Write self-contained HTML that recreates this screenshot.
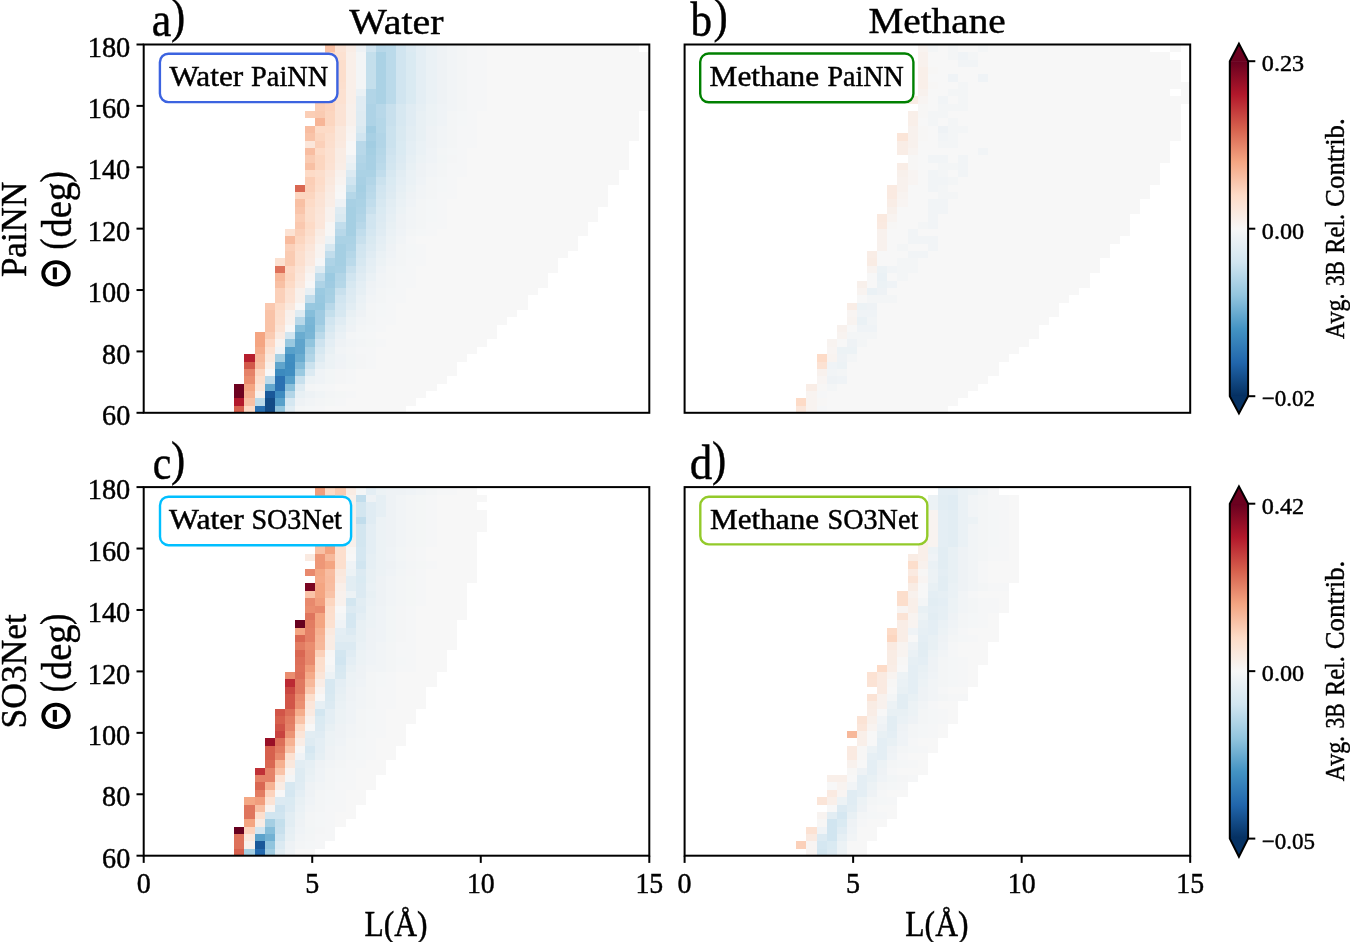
<!DOCTYPE html>
<html><head><meta charset="utf-8"><title>fig</title>
<style>html,body{margin:0;padding:0;background:#fff}body{width:1350px;height:942px;overflow:hidden;font-family:"Liberation Serif",serif}</style></head>
<body>
<svg width="1350" height="942" viewBox="0 0 1350 942" style="display:block">
<defs><linearGradient id="g" x1="0" y1="1" x2="0" y2="0">
<stop offset="0%" stop-color="#053061"/>
<stop offset="10%" stop-color="#2166ac"/>
<stop offset="20%" stop-color="#4393c3"/>
<stop offset="30%" stop-color="#92c5de"/>
<stop offset="40%" stop-color="#d1e5f0"/>
<stop offset="50%" stop-color="#f7f7f7"/>
<stop offset="60%" stop-color="#fddbc7"/>
<stop offset="70%" stop-color="#f4a582"/>
<stop offset="80%" stop-color="#d6604d"/>
<stop offset="90%" stop-color="#b2182b"/>
<stop offset="100%" stop-color="#67001f"/>
</linearGradient></defs>
<rect width="1350" height="942" fill="#fff"/>
<g shape-rendering="crispEdges">
<rect x="234" y="406" width="172" height="7" fill="#f7f7f7"/>
<rect x="234" y="406" width="10" height="7" fill="#d6604d"/>
<rect x="244" y="406" width="11" height="7" fill="#fddbc7"/>
<rect x="255" y="406" width="10" height="7" fill="#2a71b2"/>
<rect x="265" y="406" width="10" height="7" fill="#134b86"/>
<rect x="275" y="406" width="10" height="7" fill="#92c5de"/>
<rect x="285" y="406" width="10" height="7" fill="#e0ecf3"/>
<rect x="295" y="406" width="10" height="7" fill="#f3f5f6"/>
<rect x="305" y="406" width="10" height="7" fill="#f4f6f7"/>
<rect x="315" y="406" width="10" height="7" fill="#f5f6f7"/>
<rect x="234" y="398" width="182" height="8" fill="#f7f7f7"/>
<rect x="234" y="398" width="10" height="8" fill="#b2182b"/>
<rect x="244" y="398" width="11" height="8" fill="#f8c0a4"/>
<rect x="255" y="398" width="10" height="8" fill="#bbdaea"/>
<rect x="265" y="398" width="10" height="8" fill="#134b86"/>
<rect x="275" y="398" width="10" height="8" fill="#57a0ca"/>
<rect x="285" y="398" width="10" height="8" fill="#d5e7f1"/>
<rect x="295" y="398" width="10" height="8" fill="#eef2f5"/>
<rect x="305" y="398" width="10" height="8" fill="#f1f4f6"/>
<rect x="315" y="398" width="10" height="8" fill="#f3f5f6"/>
<rect x="325" y="398" width="10" height="8" fill="#f4f6f6"/>
<rect x="335" y="398" width="11" height="8" fill="#f5f6f7"/>
<rect x="234" y="391" width="192" height="7" fill="#f7f7f7"/>
<rect x="234" y="391" width="10" height="7" fill="#6e0220"/>
<rect x="244" y="391" width="11" height="7" fill="#f6b090"/>
<rect x="255" y="391" width="10" height="7" fill="#f8f0eb"/>
<rect x="265" y="391" width="10" height="7" fill="#1a5899"/>
<rect x="275" y="391" width="10" height="7" fill="#3e8cc0"/>
<rect x="285" y="391" width="10" height="7" fill="#b2d5e7"/>
<rect x="295" y="391" width="10" height="7" fill="#e8f0f4"/>
<rect x="305" y="391" width="10" height="7" fill="#edf2f5"/>
<rect x="315" y="391" width="10" height="7" fill="#f0f4f6"/>
<rect x="325" y="391" width="10" height="7" fill="#f3f5f6"/>
<rect x="335" y="391" width="11" height="7" fill="#f4f6f6"/>
<rect x="346" y="391" width="10" height="7" fill="#f5f6f7"/>
<rect x="234" y="384" width="203" height="7" fill="#f7f7f7"/>
<rect x="234" y="384" width="10" height="7" fill="#6e0220"/>
<rect x="244" y="384" width="11" height="7" fill="#f4a582"/>
<rect x="255" y="384" width="10" height="7" fill="#fbe5d8"/>
<rect x="265" y="384" width="10" height="7" fill="#63a7ce"/>
<rect x="275" y="384" width="10" height="7" fill="#2a71b2"/>
<rect x="285" y="384" width="10" height="7" fill="#8ac0db"/>
<rect x="295" y="384" width="10" height="7" fill="#deebf2"/>
<rect x="305" y="384" width="10" height="7" fill="#f3f5f6"/>
<rect x="315" y="384" width="10" height="7" fill="#f4f6f7"/>
<rect x="325" y="384" width="10" height="7" fill="#f5f6f7"/>
<rect x="244" y="376" width="203" height="8" fill="#f7f7f7"/>
<rect x="244" y="376" width="11" height="8" fill="#ea8d6f"/>
<rect x="255" y="376" width="10" height="8" fill="#fcdecc"/>
<rect x="265" y="376" width="10" height="8" fill="#bbdaea"/>
<rect x="275" y="376" width="10" height="8" fill="#2a71b2"/>
<rect x="285" y="376" width="10" height="8" fill="#57a0ca"/>
<rect x="295" y="376" width="10" height="8" fill="#c8e0ed"/>
<rect x="305" y="376" width="10" height="8" fill="#ecf2f5"/>
<rect x="315" y="376" width="10" height="8" fill="#eff3f6"/>
<rect x="325" y="376" width="10" height="8" fill="#f2f5f6"/>
<rect x="335" y="376" width="11" height="8" fill="#f4f5f6"/>
<rect x="346" y="376" width="10" height="8" fill="#f5f6f7"/>
<rect x="244" y="369" width="213" height="7" fill="#f7f7f7"/>
<rect x="244" y="369" width="11" height="7" fill="#e58268"/>
<rect x="255" y="369" width="10" height="7" fill="#fcd6c0"/>
<rect x="275" y="369" width="10" height="7" fill="#3c8abe"/>
<rect x="285" y="369" width="10" height="7" fill="#408ec1"/>
<rect x="295" y="369" width="10" height="7" fill="#9bcae1"/>
<rect x="305" y="369" width="10" height="7" fill="#dceaf2"/>
<rect x="315" y="369" width="10" height="7" fill="#eff3f6"/>
<rect x="325" y="369" width="10" height="7" fill="#f2f5f6"/>
<rect x="335" y="369" width="11" height="7" fill="#f4f5f6"/>
<rect x="346" y="369" width="10" height="7" fill="#f5f6f7"/>
<rect x="244" y="362" width="213" height="7" fill="#f7f7f7"/>
<rect x="244" y="362" width="11" height="7" fill="#d2594a"/>
<rect x="255" y="362" width="10" height="7" fill="#f8c0a4"/>
<rect x="265" y="362" width="10" height="7" fill="#f9efe9"/>
<rect x="275" y="362" width="10" height="7" fill="#5fa4cc"/>
<rect x="285" y="362" width="10" height="7" fill="#3e8cc0"/>
<rect x="295" y="362" width="10" height="7" fill="#82bbd9"/>
<rect x="305" y="362" width="10" height="7" fill="#cbe2ee"/>
<rect x="315" y="362" width="10" height="7" fill="#e6eff4"/>
<rect x="325" y="362" width="10" height="7" fill="#ecf2f5"/>
<rect x="335" y="362" width="11" height="7" fill="#f0f3f6"/>
<rect x="346" y="362" width="10" height="7" fill="#f2f5f6"/>
<rect x="356" y="362" width="10" height="7" fill="#f4f5f6"/>
<rect x="366" y="362" width="10" height="7" fill="#f5f6f7"/>
<rect x="244" y="354" width="223" height="8" fill="#f7f7f7"/>
<rect x="244" y="354" width="11" height="8" fill="#b61f2e"/>
<rect x="255" y="354" width="10" height="8" fill="#f7b89a"/>
<rect x="265" y="354" width="10" height="8" fill="#fae8dd"/>
<rect x="275" y="354" width="10" height="8" fill="#a5cfe3"/>
<rect x="285" y="354" width="10" height="8" fill="#408ec1"/>
<rect x="295" y="354" width="10" height="8" fill="#6aacd0"/>
<rect x="305" y="354" width="10" height="8" fill="#b2d5e7"/>
<rect x="315" y="354" width="10" height="8" fill="#deebf2"/>
<rect x="325" y="354" width="10" height="8" fill="#ecf2f5"/>
<rect x="335" y="354" width="11" height="8" fill="#eff3f6"/>
<rect x="346" y="354" width="10" height="8" fill="#f2f5f6"/>
<rect x="356" y="354" width="10" height="8" fill="#f4f5f6"/>
<rect x="366" y="354" width="10" height="8" fill="#f5f6f7"/>
<rect x="255" y="347" width="222" height="7" fill="#f7f7f7"/>
<rect x="255" y="347" width="10" height="7" fill="#f5ad8c"/>
<rect x="265" y="347" width="10" height="7" fill="#fce1d1"/>
<rect x="275" y="347" width="10" height="7" fill="#eff3f6"/>
<rect x="285" y="347" width="10" height="7" fill="#57a0ca"/>
<rect x="295" y="347" width="10" height="7" fill="#5fa4cc"/>
<rect x="305" y="347" width="10" height="7" fill="#a8d0e4"/>
<rect x="315" y="347" width="10" height="7" fill="#d7e8f1"/>
<rect x="325" y="347" width="10" height="7" fill="#e8f0f4"/>
<rect x="335" y="347" width="11" height="7" fill="#f1f4f6"/>
<rect x="346" y="347" width="10" height="7" fill="#f3f5f6"/>
<rect x="356" y="347" width="10" height="7" fill="#f5f6f7"/>
<rect x="366" y="347" width="10" height="7" fill="#f5f6f7"/>
<rect x="255" y="339" width="232" height="8" fill="#f7f7f7"/>
<rect x="255" y="339" width="10" height="8" fill="#f4a582"/>
<rect x="265" y="339" width="10" height="8" fill="#fdd8c4"/>
<rect x="275" y="339" width="10" height="8" fill="#f8f3f0"/>
<rect x="285" y="339" width="10" height="8" fill="#98c8e0"/>
<rect x="295" y="339" width="10" height="8" fill="#5fa4cc"/>
<rect x="305" y="339" width="10" height="8" fill="#92c5de"/>
<rect x="315" y="339" width="10" height="8" fill="#cee3ef"/>
<rect x="325" y="339" width="10" height="8" fill="#e4eef4"/>
<rect x="335" y="339" width="11" height="8" fill="#eef2f5"/>
<rect x="346" y="339" width="10" height="8" fill="#f1f4f6"/>
<rect x="356" y="339" width="10" height="8" fill="#f3f5f6"/>
<rect x="366" y="339" width="10" height="8" fill="#f4f6f6"/>
<rect x="376" y="339" width="10" height="8" fill="#f5f6f7"/>
<rect x="255" y="332" width="242" height="7" fill="#f7f7f7"/>
<rect x="255" y="332" width="10" height="7" fill="#f4a582"/>
<rect x="265" y="332" width="10" height="7" fill="#facbb2"/>
<rect x="275" y="332" width="10" height="7" fill="#faeae1"/>
<rect x="285" y="332" width="10" height="7" fill="#d1e5f0"/>
<rect x="295" y="332" width="10" height="7" fill="#6aacd0"/>
<rect x="305" y="332" width="10" height="7" fill="#7ab6d6"/>
<rect x="315" y="332" width="10" height="7" fill="#bbdaea"/>
<rect x="325" y="332" width="10" height="7" fill="#deebf2"/>
<rect x="335" y="332" width="11" height="7" fill="#eaf1f5"/>
<rect x="346" y="332" width="10" height="7" fill="#f3f5f6"/>
<rect x="356" y="332" width="10" height="7" fill="#f4f6f7"/>
<rect x="366" y="332" width="10" height="7" fill="#f5f6f7"/>
<rect x="265" y="325" width="232" height="7" fill="#f7f7f7"/>
<rect x="265" y="325" width="10" height="7" fill="#f9c3a8"/>
<rect x="275" y="325" width="10" height="7" fill="#fbe3d5"/>
<rect x="295" y="325" width="10" height="7" fill="#86beda"/>
<rect x="305" y="325" width="10" height="7" fill="#76b4d5"/>
<rect x="315" y="325" width="10" height="7" fill="#abd2e5"/>
<rect x="325" y="325" width="10" height="7" fill="#d7e8f1"/>
<rect x="335" y="325" width="11" height="7" fill="#e6eff4"/>
<rect x="346" y="325" width="10" height="7" fill="#eef2f5"/>
<rect x="356" y="325" width="10" height="7" fill="#f3f5f6"/>
<rect x="366" y="325" width="10" height="7" fill="#f4f6f7"/>
<rect x="376" y="325" width="10" height="7" fill="#f5f6f7"/>
<rect x="265" y="317" width="242" height="8" fill="#f7f7f7"/>
<rect x="265" y="317" width="10" height="8" fill="#f9c3a8"/>
<rect x="275" y="317" width="10" height="8" fill="#fcdfce"/>
<rect x="285" y="317" width="10" height="8" fill="#f8f1ed"/>
<rect x="295" y="317" width="10" height="8" fill="#b8d8e9"/>
<rect x="305" y="317" width="10" height="8" fill="#7ab6d6"/>
<rect x="315" y="317" width="10" height="8" fill="#9fcbe2"/>
<rect x="325" y="317" width="10" height="8" fill="#d1e5f0"/>
<rect x="335" y="317" width="11" height="8" fill="#e0ecf3"/>
<rect x="346" y="317" width="10" height="8" fill="#ecf2f5"/>
<rect x="356" y="317" width="10" height="8" fill="#f1f4f6"/>
<rect x="366" y="317" width="10" height="8" fill="#f3f5f6"/>
<rect x="376" y="317" width="10" height="8" fill="#f5f6f7"/>
<rect x="386" y="317" width="10" height="8" fill="#f5f6f7"/>
<rect x="265" y="310" width="252" height="7" fill="#f7f7f7"/>
<rect x="265" y="310" width="10" height="7" fill="#f9c3a8"/>
<rect x="275" y="310" width="10" height="7" fill="#fcdecc"/>
<rect x="285" y="310" width="10" height="7" fill="#f8f0eb"/>
<rect x="295" y="310" width="10" height="7" fill="#deebf2"/>
<rect x="305" y="310" width="10" height="7" fill="#86beda"/>
<rect x="315" y="310" width="10" height="7" fill="#9fcbe2"/>
<rect x="325" y="310" width="10" height="7" fill="#c4dfec"/>
<rect x="335" y="310" width="11" height="7" fill="#d7e8f1"/>
<rect x="346" y="310" width="10" height="7" fill="#e8f0f4"/>
<rect x="356" y="310" width="10" height="7" fill="#eef2f5"/>
<rect x="366" y="310" width="10" height="7" fill="#f3f5f6"/>
<rect x="376" y="310" width="10" height="7" fill="#f4f6f7"/>
<rect x="386" y="310" width="10" height="7" fill="#f5f6f7"/>
<rect x="265" y="303" width="263" height="7" fill="#f7f7f7"/>
<rect x="265" y="303" width="10" height="7" fill="#fac8af"/>
<rect x="275" y="303" width="10" height="7" fill="#fddbc7"/>
<rect x="285" y="303" width="10" height="7" fill="#fae8dd"/>
<rect x="305" y="303" width="10" height="7" fill="#98c8e0"/>
<rect x="315" y="303" width="10" height="7" fill="#95c7df"/>
<rect x="325" y="303" width="10" height="7" fill="#b8d8e9"/>
<rect x="335" y="303" width="11" height="7" fill="#d5e7f1"/>
<rect x="346" y="303" width="10" height="7" fill="#e2edf3"/>
<rect x="356" y="303" width="10" height="7" fill="#ecf2f5"/>
<rect x="366" y="303" width="10" height="7" fill="#f3f5f6"/>
<rect x="376" y="303" width="10" height="7" fill="#f4f6f7"/>
<rect x="386" y="303" width="10" height="7" fill="#f5f6f7"/>
<rect x="275" y="295" width="253" height="8" fill="#f7f7f7"/>
<rect x="275" y="295" width="10" height="8" fill="#fbd0b9"/>
<rect x="285" y="295" width="10" height="8" fill="#fce2d3"/>
<rect x="295" y="295" width="10" height="8" fill="#f8f0eb"/>
<rect x="305" y="295" width="10" height="8" fill="#c1ddec"/>
<rect x="315" y="295" width="10" height="8" fill="#98c8e0"/>
<rect x="325" y="295" width="10" height="8" fill="#a8d0e4"/>
<rect x="335" y="295" width="11" height="8" fill="#d1e5f0"/>
<rect x="346" y="295" width="10" height="8" fill="#deebf2"/>
<rect x="356" y="295" width="10" height="8" fill="#eaf1f5"/>
<rect x="366" y="295" width="10" height="8" fill="#f1f4f6"/>
<rect x="376" y="295" width="10" height="8" fill="#f3f5f6"/>
<rect x="386" y="295" width="10" height="8" fill="#f5f6f7"/>
<rect x="396" y="295" width="10" height="8" fill="#f5f6f7"/>
<rect x="275" y="288" width="263" height="7" fill="#f7f7f7"/>
<rect x="275" y="288" width="10" height="7" fill="#fbd0b9"/>
<rect x="285" y="288" width="10" height="7" fill="#fce1d1"/>
<rect x="295" y="288" width="10" height="7" fill="#f8f0eb"/>
<rect x="305" y="288" width="10" height="7" fill="#e6eff4"/>
<rect x="315" y="288" width="10" height="7" fill="#9bcae1"/>
<rect x="325" y="288" width="10" height="7" fill="#a5cfe3"/>
<rect x="335" y="288" width="11" height="7" fill="#c8e0ed"/>
<rect x="346" y="288" width="10" height="7" fill="#dceaf2"/>
<rect x="356" y="288" width="10" height="7" fill="#e6eff4"/>
<rect x="366" y="288" width="10" height="7" fill="#eff3f6"/>
<rect x="376" y="288" width="10" height="7" fill="#f3f5f6"/>
<rect x="386" y="288" width="10" height="7" fill="#f4f6f7"/>
<rect x="396" y="288" width="10" height="7" fill="#f5f6f7"/>
<rect x="275" y="281" width="273" height="7" fill="#f7f7f7"/>
<rect x="275" y="281" width="10" height="7" fill="#f8c0a4"/>
<rect x="285" y="281" width="10" height="7" fill="#fddbc7"/>
<rect x="295" y="281" width="10" height="7" fill="#fae9df"/>
<rect x="315" y="281" width="10" height="7" fill="#aed3e6"/>
<rect x="325" y="281" width="10" height="7" fill="#9fcbe2"/>
<rect x="335" y="281" width="11" height="7" fill="#b5d7e8"/>
<rect x="346" y="281" width="10" height="7" fill="#d7e8f1"/>
<rect x="356" y="281" width="10" height="7" fill="#e4eef4"/>
<rect x="366" y="281" width="10" height="7" fill="#eef2f5"/>
<rect x="376" y="281" width="10" height="7" fill="#f1f4f6"/>
<rect x="386" y="281" width="10" height="7" fill="#f3f5f6"/>
<rect x="396" y="281" width="10" height="7" fill="#f5f6f7"/>
<rect x="406" y="281" width="10" height="7" fill="#f5f6f7"/>
<rect x="275" y="273" width="273" height="8" fill="#f7f7f7"/>
<rect x="275" y="273" width="10" height="8" fill="#f7b89a"/>
<rect x="285" y="273" width="10" height="8" fill="#fcd6c0"/>
<rect x="295" y="273" width="10" height="8" fill="#fbe6da"/>
<rect x="305" y="273" width="10" height="8" fill="#f8f4f2"/>
<rect x="315" y="273" width="10" height="8" fill="#c1ddec"/>
<rect x="325" y="273" width="10" height="8" fill="#9bcae1"/>
<rect x="335" y="273" width="11" height="8" fill="#b2d5e7"/>
<rect x="346" y="273" width="10" height="8" fill="#d1e5f0"/>
<rect x="356" y="273" width="10" height="8" fill="#e0ecf3"/>
<rect x="366" y="273" width="10" height="8" fill="#eaf1f5"/>
<rect x="376" y="273" width="10" height="8" fill="#f1f4f6"/>
<rect x="386" y="273" width="10" height="8" fill="#f3f5f6"/>
<rect x="396" y="273" width="10" height="8" fill="#f5f6f7"/>
<rect x="406" y="273" width="10" height="8" fill="#f5f6f7"/>
<rect x="275" y="266" width="283" height="7" fill="#f7f7f7"/>
<rect x="275" y="266" width="10" height="7" fill="#de715a"/>
<rect x="285" y="266" width="10" height="7" fill="#fdd8c4"/>
<rect x="295" y="266" width="10" height="7" fill="#fbe3d5"/>
<rect x="305" y="266" width="10" height="7" fill="#f8f0eb"/>
<rect x="315" y="266" width="10" height="7" fill="#deebf2"/>
<rect x="325" y="266" width="10" height="7" fill="#a5cfe3"/>
<rect x="335" y="266" width="11" height="7" fill="#a8d0e4"/>
<rect x="346" y="266" width="10" height="7" fill="#c8e0ed"/>
<rect x="356" y="266" width="10" height="7" fill="#dceaf2"/>
<rect x="366" y="266" width="10" height="7" fill="#e6eff4"/>
<rect x="376" y="266" width="10" height="7" fill="#eff3f6"/>
<rect x="386" y="266" width="10" height="7" fill="#f3f5f6"/>
<rect x="396" y="266" width="10" height="7" fill="#f4f6f7"/>
<rect x="406" y="266" width="10" height="7" fill="#f5f6f7"/>
<rect x="275" y="258" width="283" height="8" fill="#f7f7f7"/>
<rect x="275" y="258" width="10" height="8" fill="#fce1d1"/>
<rect x="285" y="258" width="10" height="8" fill="#facbb2"/>
<rect x="295" y="258" width="10" height="8" fill="#fcdfce"/>
<rect x="305" y="258" width="10" height="8" fill="#faeae1"/>
<rect x="315" y="258" width="10" height="8" fill="#f5f6f7"/>
<rect x="325" y="258" width="10" height="8" fill="#aed3e6"/>
<rect x="335" y="258" width="11" height="8" fill="#a5cfe3"/>
<rect x="346" y="258" width="10" height="8" fill="#bbdaea"/>
<rect x="356" y="258" width="10" height="8" fill="#d7e8f1"/>
<rect x="366" y="258" width="10" height="8" fill="#e4eef4"/>
<rect x="376" y="258" width="10" height="8" fill="#ecf2f5"/>
<rect x="386" y="258" width="10" height="8" fill="#f1f4f6"/>
<rect x="396" y="258" width="10" height="8" fill="#f3f5f6"/>
<rect x="406" y="258" width="10" height="8" fill="#f5f6f7"/>
<rect x="416" y="258" width="10" height="8" fill="#f5f6f7"/>
<rect x="285" y="251" width="283" height="7" fill="#f7f7f7"/>
<rect x="285" y="251" width="10" height="7" fill="#facbb2"/>
<rect x="295" y="251" width="10" height="7" fill="#fcdfce"/>
<rect x="305" y="251" width="10" height="7" fill="#fae9df"/>
<rect x="315" y="251" width="10" height="7" fill="#f8f3f0"/>
<rect x="325" y="251" width="10" height="7" fill="#c1ddec"/>
<rect x="335" y="251" width="11" height="7" fill="#a5cfe3"/>
<rect x="346" y="251" width="10" height="7" fill="#b5d7e8"/>
<rect x="356" y="251" width="10" height="7" fill="#d3e6f0"/>
<rect x="366" y="251" width="10" height="7" fill="#e0ecf3"/>
<rect x="376" y="251" width="10" height="7" fill="#eaf1f5"/>
<rect x="386" y="251" width="10" height="7" fill="#eff3f6"/>
<rect x="396" y="251" width="10" height="7" fill="#f3f5f6"/>
<rect x="406" y="251" width="10" height="7" fill="#f4f6f7"/>
<rect x="416" y="251" width="10" height="7" fill="#f5f6f7"/>
<rect x="285" y="244" width="293" height="7" fill="#f7f7f7"/>
<rect x="285" y="244" width="10" height="7" fill="#fbd0b9"/>
<rect x="295" y="244" width="10" height="7" fill="#fddcc9"/>
<rect x="305" y="244" width="10" height="7" fill="#fbe6da"/>
<rect x="315" y="244" width="10" height="7" fill="#f8f3f0"/>
<rect x="325" y="244" width="10" height="7" fill="#d7e8f1"/>
<rect x="335" y="244" width="11" height="7" fill="#a5cfe3"/>
<rect x="346" y="244" width="10" height="7" fill="#aed3e6"/>
<rect x="356" y="244" width="10" height="7" fill="#d1e5f0"/>
<rect x="366" y="244" width="10" height="7" fill="#dceaf2"/>
<rect x="376" y="244" width="10" height="7" fill="#e6eff4"/>
<rect x="386" y="244" width="10" height="7" fill="#eef2f5"/>
<rect x="396" y="244" width="10" height="7" fill="#f3f5f6"/>
<rect x="406" y="244" width="10" height="7" fill="#f4f6f7"/>
<rect x="416" y="244" width="10" height="7" fill="#f5f6f7"/>
<rect x="285" y="236" width="293" height="8" fill="#f7f7f7"/>
<rect x="285" y="236" width="10" height="8" fill="#f8bb9e"/>
<rect x="295" y="236" width="10" height="8" fill="#fcd6c0"/>
<rect x="305" y="236" width="10" height="8" fill="#fce2d3"/>
<rect x="315" y="236" width="10" height="8" fill="#f9efe9"/>
<rect x="325" y="236" width="10" height="8" fill="#ecf2f5"/>
<rect x="335" y="236" width="11" height="8" fill="#abd2e5"/>
<rect x="346" y="236" width="10" height="8" fill="#abd2e5"/>
<rect x="356" y="236" width="10" height="8" fill="#c8e0ed"/>
<rect x="366" y="236" width="10" height="8" fill="#d9e9f1"/>
<rect x="376" y="236" width="10" height="8" fill="#e4eef4"/>
<rect x="386" y="236" width="10" height="8" fill="#ecf2f5"/>
<rect x="396" y="236" width="10" height="8" fill="#f1f4f6"/>
<rect x="406" y="236" width="10" height="8" fill="#f5f6f7"/>
<rect x="285" y="229" width="303" height="7" fill="#f7f7f7"/>
<rect x="285" y="229" width="10" height="7" fill="#fce2d3"/>
<rect x="295" y="229" width="10" height="7" fill="#fbd0b9"/>
<rect x="305" y="229" width="10" height="7" fill="#fcdecc"/>
<rect x="315" y="229" width="10" height="7" fill="#f9ece4"/>
<rect x="325" y="229" width="10" height="7" fill="#f7f6f5"/>
<rect x="335" y="229" width="11" height="7" fill="#b8d8e9"/>
<rect x="346" y="229" width="10" height="7" fill="#a5cfe3"/>
<rect x="356" y="229" width="10" height="7" fill="#c1ddec"/>
<rect x="366" y="229" width="10" height="7" fill="#d5e7f1"/>
<rect x="376" y="229" width="10" height="7" fill="#e0ecf3"/>
<rect x="386" y="229" width="10" height="7" fill="#eaf1f5"/>
<rect x="396" y="229" width="10" height="7" fill="#eff3f6"/>
<rect x="406" y="229" width="10" height="7" fill="#f3f5f6"/>
<rect x="416" y="229" width="10" height="7" fill="#f4f6f7"/>
<rect x="426" y="229" width="11" height="7" fill="#f5f6f7"/>
<rect x="295" y="222" width="293" height="7" fill="#f7f7f7"/>
<rect x="295" y="222" width="10" height="7" fill="#fac8af"/>
<rect x="305" y="222" width="10" height="7" fill="#fddbc7"/>
<rect x="315" y="222" width="10" height="7" fill="#fbe6da"/>
<rect x="325" y="222" width="10" height="7" fill="#f7f6f5"/>
<rect x="335" y="222" width="11" height="7" fill="#c1ddec"/>
<rect x="346" y="222" width="10" height="7" fill="#a5cfe3"/>
<rect x="356" y="222" width="10" height="7" fill="#b8d8e9"/>
<rect x="366" y="222" width="10" height="7" fill="#d1e5f0"/>
<rect x="376" y="222" width="10" height="7" fill="#deebf2"/>
<rect x="386" y="222" width="10" height="7" fill="#e8f0f4"/>
<rect x="396" y="222" width="10" height="7" fill="#eef2f5"/>
<rect x="406" y="222" width="10" height="7" fill="#f1f4f6"/>
<rect x="416" y="222" width="10" height="7" fill="#f3f5f6"/>
<rect x="426" y="222" width="11" height="7" fill="#f5f6f7"/>
<rect x="437" y="222" width="10" height="7" fill="#f5f6f7"/>
<rect x="295" y="214" width="303" height="8" fill="#f7f7f7"/>
<rect x="295" y="214" width="10" height="8" fill="#fbceb6"/>
<rect x="305" y="214" width="10" height="8" fill="#fcdecc"/>
<rect x="315" y="214" width="10" height="8" fill="#fbe6da"/>
<rect x="325" y="214" width="10" height="8" fill="#f8f1ed"/>
<rect x="335" y="214" width="11" height="8" fill="#d9e9f1"/>
<rect x="346" y="214" width="10" height="8" fill="#a5cfe3"/>
<rect x="356" y="214" width="10" height="8" fill="#b2d5e7"/>
<rect x="366" y="214" width="10" height="8" fill="#d1e5f0"/>
<rect x="376" y="214" width="10" height="8" fill="#dceaf2"/>
<rect x="386" y="214" width="10" height="8" fill="#e6eff4"/>
<rect x="396" y="214" width="10" height="8" fill="#eef2f5"/>
<rect x="406" y="214" width="10" height="8" fill="#f1f4f6"/>
<rect x="416" y="214" width="10" height="8" fill="#f3f5f6"/>
<rect x="426" y="214" width="11" height="8" fill="#f4f6f7"/>
<rect x="437" y="214" width="10" height="8" fill="#f5f6f7"/>
<rect x="295" y="207" width="303" height="7" fill="#f7f7f7"/>
<rect x="295" y="207" width="10" height="7" fill="#f9c5ab"/>
<rect x="305" y="207" width="10" height="7" fill="#fcdecc"/>
<rect x="315" y="207" width="10" height="7" fill="#fbe5d8"/>
<rect x="325" y="207" width="10" height="7" fill="#f8f1ed"/>
<rect x="335" y="207" width="11" height="7" fill="#deebf2"/>
<rect x="346" y="207" width="10" height="7" fill="#a5cfe3"/>
<rect x="356" y="207" width="10" height="7" fill="#aed3e6"/>
<rect x="366" y="207" width="10" height="7" fill="#c8e0ed"/>
<rect x="376" y="207" width="10" height="7" fill="#daeaf2"/>
<rect x="386" y="207" width="10" height="7" fill="#e4eef4"/>
<rect x="396" y="207" width="10" height="7" fill="#ecf2f5"/>
<rect x="406" y="207" width="10" height="7" fill="#f1f4f6"/>
<rect x="416" y="207" width="10" height="7" fill="#f3f5f6"/>
<rect x="426" y="207" width="11" height="7" fill="#f4f6f7"/>
<rect x="437" y="207" width="10" height="7" fill="#f5f6f7"/>
<rect x="295" y="199" width="313" height="8" fill="#f7f7f7"/>
<rect x="295" y="199" width="10" height="8" fill="#f8c0a4"/>
<rect x="305" y="199" width="10" height="8" fill="#fddbc7"/>
<rect x="315" y="199" width="10" height="8" fill="#fbe3d5"/>
<rect x="325" y="199" width="10" height="8" fill="#f9ede6"/>
<rect x="335" y="199" width="11" height="8" fill="#eef2f5"/>
<rect x="346" y="199" width="10" height="8" fill="#a8d0e4"/>
<rect x="356" y="199" width="10" height="8" fill="#abd2e5"/>
<rect x="366" y="199" width="10" height="8" fill="#c1ddec"/>
<rect x="376" y="199" width="10" height="8" fill="#d7e8f1"/>
<rect x="386" y="199" width="10" height="8" fill="#e2edf3"/>
<rect x="396" y="199" width="10" height="8" fill="#eaf1f5"/>
<rect x="406" y="199" width="10" height="8" fill="#eff3f6"/>
<rect x="416" y="199" width="10" height="8" fill="#f3f5f6"/>
<rect x="426" y="199" width="11" height="8" fill="#f4f6f7"/>
<rect x="437" y="199" width="10" height="8" fill="#f5f6f7"/>
<rect x="295" y="192" width="313" height="7" fill="#f7f7f7"/>
<rect x="295" y="192" width="10" height="7" fill="#fcd6c0"/>
<rect x="305" y="192" width="10" height="7" fill="#fcd6c0"/>
<rect x="315" y="192" width="10" height="7" fill="#fce2d3"/>
<rect x="325" y="192" width="10" height="7" fill="#f9ece4"/>
<rect x="346" y="192" width="10" height="7" fill="#b5d7e8"/>
<rect x="356" y="192" width="10" height="7" fill="#a8d0e4"/>
<rect x="366" y="192" width="10" height="7" fill="#bbdaea"/>
<rect x="376" y="192" width="10" height="7" fill="#d3e6f0"/>
<rect x="386" y="192" width="10" height="7" fill="#deebf2"/>
<rect x="396" y="192" width="10" height="7" fill="#e8f0f4"/>
<rect x="406" y="192" width="10" height="7" fill="#eef2f5"/>
<rect x="416" y="192" width="10" height="7" fill="#f1f4f6"/>
<rect x="426" y="192" width="11" height="7" fill="#f3f5f6"/>
<rect x="437" y="192" width="10" height="7" fill="#f5f6f7"/>
<rect x="447" y="192" width="10" height="7" fill="#f5f6f7"/>
<rect x="295" y="185" width="313" height="7" fill="#f7f7f7"/>
<rect x="295" y="185" width="10" height="7" fill="#d96752"/>
<rect x="305" y="185" width="10" height="7" fill="#fbd0b9"/>
<rect x="315" y="185" width="10" height="7" fill="#fcdecc"/>
<rect x="325" y="185" width="10" height="7" fill="#faeae1"/>
<rect x="335" y="185" width="11" height="7" fill="#f7f6f5"/>
<rect x="346" y="185" width="10" height="7" fill="#c4dfec"/>
<rect x="356" y="185" width="10" height="7" fill="#a5cfe3"/>
<rect x="366" y="185" width="10" height="7" fill="#b8d8e9"/>
<rect x="376" y="185" width="10" height="7" fill="#d1e5f0"/>
<rect x="386" y="185" width="10" height="7" fill="#dceaf2"/>
<rect x="396" y="185" width="10" height="7" fill="#e6eff4"/>
<rect x="406" y="185" width="10" height="7" fill="#ecf2f5"/>
<rect x="416" y="185" width="10" height="7" fill="#f1f4f6"/>
<rect x="426" y="185" width="11" height="7" fill="#f3f5f6"/>
<rect x="437" y="185" width="10" height="7" fill="#f4f6f7"/>
<rect x="447" y="185" width="10" height="7" fill="#f5f6f7"/>
<rect x="305" y="177" width="314" height="8" fill="#f7f7f7"/>
<rect x="305" y="177" width="10" height="8" fill="#fbceb6"/>
<rect x="315" y="177" width="10" height="8" fill="#fddcc9"/>
<rect x="325" y="177" width="10" height="8" fill="#fae8dd"/>
<rect x="335" y="177" width="11" height="8" fill="#f8f3f0"/>
<rect x="346" y="177" width="10" height="8" fill="#d1e5f0"/>
<rect x="356" y="177" width="10" height="8" fill="#a8d0e4"/>
<rect x="366" y="177" width="10" height="8" fill="#b2d5e7"/>
<rect x="376" y="177" width="10" height="8" fill="#cbe2ee"/>
<rect x="386" y="177" width="10" height="8" fill="#daeaf2"/>
<rect x="396" y="177" width="10" height="8" fill="#e4eef4"/>
<rect x="406" y="177" width="10" height="8" fill="#eaf1f5"/>
<rect x="416" y="177" width="10" height="8" fill="#eff3f6"/>
<rect x="426" y="177" width="11" height="8" fill="#f3f5f6"/>
<rect x="437" y="177" width="10" height="8" fill="#f4f6f7"/>
<rect x="447" y="177" width="10" height="8" fill="#f5f6f7"/>
<rect x="305" y="170" width="314" height="7" fill="#f7f7f7"/>
<rect x="305" y="170" width="10" height="7" fill="#fddbc7"/>
<rect x="315" y="170" width="10" height="7" fill="#fcdecc"/>
<rect x="325" y="170" width="10" height="7" fill="#fbe6da"/>
<rect x="335" y="170" width="11" height="7" fill="#f8f1ed"/>
<rect x="346" y="170" width="10" height="7" fill="#dceaf2"/>
<rect x="356" y="170" width="10" height="7" fill="#abd2e5"/>
<rect x="366" y="170" width="10" height="7" fill="#abd2e5"/>
<rect x="376" y="170" width="10" height="7" fill="#c1ddec"/>
<rect x="386" y="170" width="10" height="7" fill="#d7e8f1"/>
<rect x="396" y="170" width="10" height="7" fill="#e2edf3"/>
<rect x="406" y="170" width="10" height="7" fill="#eaf1f5"/>
<rect x="416" y="170" width="10" height="7" fill="#eef2f5"/>
<rect x="426" y="170" width="11" height="7" fill="#f1f4f6"/>
<rect x="437" y="170" width="10" height="7" fill="#f3f5f6"/>
<rect x="447" y="170" width="10" height="7" fill="#f5f6f7"/>
<rect x="457" y="170" width="10" height="7" fill="#f5f6f7"/>
<rect x="305" y="163" width="324" height="7" fill="#f7f7f7"/>
<rect x="305" y="163" width="10" height="7" fill="#f8c0a4"/>
<rect x="315" y="163" width="10" height="7" fill="#fcd6c0"/>
<rect x="325" y="163" width="10" height="7" fill="#fce2d3"/>
<rect x="335" y="163" width="11" height="7" fill="#f9ede6"/>
<rect x="346" y="163" width="10" height="7" fill="#e8f0f4"/>
<rect x="356" y="163" width="10" height="7" fill="#aed3e6"/>
<rect x="366" y="163" width="10" height="7" fill="#a8d0e4"/>
<rect x="376" y="163" width="10" height="7" fill="#bbdaea"/>
<rect x="386" y="163" width="10" height="7" fill="#d3e6f0"/>
<rect x="396" y="163" width="10" height="7" fill="#deebf2"/>
<rect x="406" y="163" width="10" height="7" fill="#e8f0f4"/>
<rect x="416" y="163" width="10" height="7" fill="#eef2f5"/>
<rect x="426" y="163" width="11" height="7" fill="#f1f4f6"/>
<rect x="437" y="163" width="10" height="7" fill="#f3f5f6"/>
<rect x="447" y="163" width="10" height="7" fill="#f5f6f7"/>
<rect x="457" y="163" width="10" height="7" fill="#f5f6f7"/>
<rect x="305" y="155" width="324" height="8" fill="#f7f7f7"/>
<rect x="305" y="155" width="10" height="8" fill="#facbb2"/>
<rect x="315" y="155" width="10" height="8" fill="#fcd6c0"/>
<rect x="325" y="155" width="10" height="8" fill="#fce1d1"/>
<rect x="335" y="155" width="11" height="8" fill="#f9ece4"/>
<rect x="346" y="155" width="10" height="8" fill="#eef2f5"/>
<rect x="356" y="155" width="10" height="8" fill="#b2d5e7"/>
<rect x="366" y="155" width="10" height="8" fill="#a8d0e4"/>
<rect x="376" y="155" width="10" height="8" fill="#b8d8e9"/>
<rect x="386" y="155" width="10" height="8" fill="#d1e5f0"/>
<rect x="396" y="155" width="10" height="8" fill="#dceaf2"/>
<rect x="406" y="155" width="10" height="8" fill="#e6eff4"/>
<rect x="416" y="155" width="10" height="8" fill="#ecf2f5"/>
<rect x="426" y="155" width="11" height="8" fill="#eff3f6"/>
<rect x="437" y="155" width="10" height="8" fill="#f2f5f6"/>
<rect x="447" y="155" width="10" height="8" fill="#f4f5f6"/>
<rect x="457" y="155" width="10" height="8" fill="#f5f6f7"/>
<rect x="305" y="148" width="324" height="7" fill="#f7f7f7"/>
<rect x="305" y="148" width="10" height="7" fill="#f8bda1"/>
<rect x="315" y="148" width="10" height="7" fill="#fddbc7"/>
<rect x="325" y="148" width="10" height="7" fill="#fce1d1"/>
<rect x="335" y="148" width="11" height="7" fill="#f9ece4"/>
<rect x="356" y="148" width="10" height="7" fill="#b8d8e9"/>
<rect x="366" y="148" width="10" height="7" fill="#a5cfe3"/>
<rect x="376" y="148" width="10" height="7" fill="#b5d7e8"/>
<rect x="386" y="148" width="10" height="7" fill="#cee3ef"/>
<rect x="396" y="148" width="10" height="7" fill="#daeaf2"/>
<rect x="406" y="148" width="10" height="7" fill="#e4eef4"/>
<rect x="416" y="148" width="10" height="7" fill="#eaf1f5"/>
<rect x="426" y="148" width="11" height="7" fill="#eff3f6"/>
<rect x="437" y="148" width="10" height="7" fill="#f3f5f6"/>
<rect x="447" y="148" width="10" height="7" fill="#f4f6f7"/>
<rect x="457" y="148" width="10" height="7" fill="#f5f6f7"/>
<rect x="305" y="141" width="324" height="7" fill="#f7f7f7"/>
<rect x="305" y="141" width="10" height="7" fill="#fbe6da"/>
<rect x="315" y="141" width="10" height="7" fill="#fbd0b9"/>
<rect x="325" y="141" width="10" height="7" fill="#fcdfce"/>
<rect x="335" y="141" width="11" height="7" fill="#fae9df"/>
<rect x="356" y="141" width="10" height="7" fill="#b8d8e9"/>
<rect x="366" y="141" width="10" height="7" fill="#a2cde2"/>
<rect x="376" y="141" width="10" height="7" fill="#b2d5e7"/>
<rect x="386" y="141" width="10" height="7" fill="#cbe2ee"/>
<rect x="396" y="141" width="10" height="7" fill="#daeaf2"/>
<rect x="406" y="141" width="10" height="7" fill="#e4eef4"/>
<rect x="416" y="141" width="10" height="7" fill="#eaf1f5"/>
<rect x="426" y="141" width="11" height="7" fill="#eef2f5"/>
<rect x="437" y="141" width="10" height="7" fill="#f1f4f6"/>
<rect x="447" y="141" width="10" height="7" fill="#f3f5f6"/>
<rect x="457" y="141" width="10" height="7" fill="#f5f6f7"/>
<rect x="467" y="141" width="10" height="7" fill="#f5f6f7"/>
<rect x="305" y="133" width="334" height="8" fill="#f7f7f7"/>
<rect x="305" y="133" width="10" height="8" fill="#f9c3a8"/>
<rect x="315" y="133" width="10" height="8" fill="#fcd6c0"/>
<rect x="325" y="133" width="10" height="8" fill="#fcdecc"/>
<rect x="335" y="133" width="11" height="8" fill="#fae8dd"/>
<rect x="346" y="133" width="10" height="8" fill="#f8f4f2"/>
<rect x="356" y="133" width="10" height="8" fill="#d1e5f0"/>
<rect x="366" y="133" width="10" height="8" fill="#a8d0e4"/>
<rect x="376" y="133" width="10" height="8" fill="#b2d5e7"/>
<rect x="386" y="133" width="10" height="8" fill="#cbe2ee"/>
<rect x="396" y="133" width="10" height="8" fill="#d9e9f1"/>
<rect x="406" y="133" width="10" height="8" fill="#e2edf3"/>
<rect x="416" y="133" width="10" height="8" fill="#e8f0f4"/>
<rect x="426" y="133" width="11" height="8" fill="#eef2f5"/>
<rect x="437" y="133" width="10" height="8" fill="#f1f4f6"/>
<rect x="447" y="133" width="10" height="8" fill="#f3f5f6"/>
<rect x="457" y="133" width="10" height="8" fill="#f5f6f7"/>
<rect x="467" y="133" width="10" height="8" fill="#f5f6f7"/>
<rect x="305" y="126" width="334" height="7" fill="#f7f7f7"/>
<rect x="305" y="126" width="10" height="7" fill="#f8bda1"/>
<rect x="315" y="126" width="10" height="7" fill="#fddbc7"/>
<rect x="325" y="126" width="10" height="7" fill="#fddbc7"/>
<rect x="335" y="126" width="11" height="7" fill="#fae8dd"/>
<rect x="346" y="126" width="10" height="7" fill="#f8f3f0"/>
<rect x="356" y="126" width="10" height="7" fill="#d9e9f1"/>
<rect x="366" y="126" width="10" height="7" fill="#a2cde2"/>
<rect x="376" y="126" width="10" height="7" fill="#b5d7e8"/>
<rect x="386" y="126" width="10" height="7" fill="#cbe2ee"/>
<rect x="396" y="126" width="10" height="7" fill="#d9e9f1"/>
<rect x="406" y="126" width="10" height="7" fill="#e2edf3"/>
<rect x="416" y="126" width="10" height="7" fill="#e8f0f4"/>
<rect x="426" y="126" width="11" height="7" fill="#eef2f5"/>
<rect x="437" y="126" width="10" height="7" fill="#f1f4f6"/>
<rect x="447" y="126" width="10" height="7" fill="#f3f5f6"/>
<rect x="457" y="126" width="10" height="7" fill="#f5f6f7"/>
<rect x="467" y="126" width="10" height="7" fill="#f5f6f7"/>
<rect x="315" y="118" width="324" height="8" fill="#f7f7f7"/>
<rect x="315" y="118" width="10" height="8" fill="#f7b597"/>
<rect x="325" y="118" width="10" height="8" fill="#fcd6c0"/>
<rect x="335" y="118" width="11" height="8" fill="#fbe3d5"/>
<rect x="346" y="118" width="10" height="8" fill="#f8f0eb"/>
<rect x="356" y="118" width="10" height="8" fill="#deebf2"/>
<rect x="366" y="118" width="10" height="8" fill="#aed3e6"/>
<rect x="376" y="118" width="10" height="8" fill="#b5d7e8"/>
<rect x="386" y="118" width="10" height="8" fill="#c8e0ed"/>
<rect x="396" y="118" width="10" height="8" fill="#d7e8f1"/>
<rect x="406" y="118" width="10" height="8" fill="#e0ecf3"/>
<rect x="416" y="118" width="10" height="8" fill="#e8f0f4"/>
<rect x="426" y="118" width="11" height="8" fill="#ecf2f5"/>
<rect x="437" y="118" width="10" height="8" fill="#eff3f6"/>
<rect x="447" y="118" width="10" height="8" fill="#f3f5f6"/>
<rect x="457" y="118" width="10" height="8" fill="#f4f6f7"/>
<rect x="467" y="118" width="10" height="8" fill="#f5f6f7"/>
<rect x="305" y="111" width="334" height="7" fill="#f7f7f7"/>
<rect x="305" y="111" width="10" height="7" fill="#fbceb6"/>
<rect x="315" y="111" width="10" height="7" fill="#facbb2"/>
<rect x="325" y="111" width="10" height="7" fill="#fcd6c0"/>
<rect x="335" y="111" width="11" height="7" fill="#fbe3d5"/>
<rect x="346" y="111" width="10" height="7" fill="#f8f0eb"/>
<rect x="356" y="111" width="10" height="7" fill="#deebf2"/>
<rect x="366" y="111" width="10" height="7" fill="#aed3e6"/>
<rect x="376" y="111" width="10" height="7" fill="#b8d8e9"/>
<rect x="386" y="111" width="10" height="7" fill="#c8e0ed"/>
<rect x="396" y="111" width="10" height="7" fill="#d7e8f1"/>
<rect x="406" y="111" width="10" height="7" fill="#e0ecf3"/>
<rect x="416" y="111" width="10" height="7" fill="#e8f0f4"/>
<rect x="426" y="111" width="11" height="7" fill="#ecf2f5"/>
<rect x="437" y="111" width="10" height="7" fill="#eff3f6"/>
<rect x="447" y="111" width="10" height="7" fill="#f3f5f6"/>
<rect x="457" y="111" width="10" height="7" fill="#f4f6f7"/>
<rect x="467" y="111" width="10" height="7" fill="#f5f6f7"/>
<rect x="315" y="104" width="334" height="7" fill="#f7f7f7"/>
<rect x="315" y="104" width="10" height="7" fill="#fbceb6"/>
<rect x="325" y="104" width="10" height="7" fill="#fcd3bd"/>
<rect x="335" y="104" width="11" height="7" fill="#fbe3d5"/>
<rect x="346" y="104" width="10" height="7" fill="#f8f0eb"/>
<rect x="356" y="104" width="10" height="7" fill="#e0ecf3"/>
<rect x="366" y="104" width="10" height="7" fill="#aed3e6"/>
<rect x="376" y="104" width="10" height="7" fill="#b8d8e9"/>
<rect x="386" y="104" width="10" height="7" fill="#c8e0ed"/>
<rect x="396" y="104" width="10" height="7" fill="#d7e8f1"/>
<rect x="406" y="104" width="10" height="7" fill="#e0ecf3"/>
<rect x="416" y="104" width="10" height="7" fill="#e6eff4"/>
<rect x="426" y="104" width="11" height="7" fill="#ecf2f5"/>
<rect x="437" y="104" width="10" height="7" fill="#eff3f6"/>
<rect x="447" y="104" width="10" height="7" fill="#f1f4f6"/>
<rect x="457" y="104" width="10" height="7" fill="#f3f5f6"/>
<rect x="467" y="104" width="10" height="7" fill="#f5f6f7"/>
<rect x="477" y="104" width="10" height="7" fill="#f5f6f7"/>
<rect x="315" y="96" width="334" height="8" fill="#f7f7f7"/>
<rect x="315" y="96" width="10" height="8" fill="#fbceb6"/>
<rect x="325" y="96" width="10" height="8" fill="#fcd6c0"/>
<rect x="335" y="96" width="11" height="8" fill="#fce1d1"/>
<rect x="346" y="96" width="10" height="8" fill="#f9efe9"/>
<rect x="356" y="96" width="10" height="8" fill="#e0ecf3"/>
<rect x="366" y="96" width="10" height="8" fill="#b2d5e7"/>
<rect x="376" y="96" width="10" height="8" fill="#abd2e5"/>
<rect x="386" y="96" width="10" height="8" fill="#bbdaea"/>
<rect x="396" y="96" width="10" height="8" fill="#d1e5f0"/>
<rect x="406" y="96" width="10" height="8" fill="#daeaf2"/>
<rect x="416" y="96" width="10" height="8" fill="#e4eef4"/>
<rect x="426" y="96" width="11" height="8" fill="#eaf1f5"/>
<rect x="437" y="96" width="10" height="8" fill="#eef2f5"/>
<rect x="447" y="96" width="10" height="8" fill="#f1f4f6"/>
<rect x="457" y="96" width="10" height="8" fill="#f3f5f6"/>
<rect x="467" y="96" width="10" height="8" fill="#f5f6f7"/>
<rect x="477" y="96" width="10" height="8" fill="#f5f6f7"/>
<rect x="315" y="89" width="334" height="7" fill="#f7f7f7"/>
<rect x="315" y="89" width="10" height="7" fill="#fbceb6"/>
<rect x="325" y="89" width="10" height="7" fill="#fcd6c0"/>
<rect x="335" y="89" width="11" height="7" fill="#fce1d1"/>
<rect x="346" y="89" width="10" height="7" fill="#f9efe9"/>
<rect x="356" y="89" width="10" height="7" fill="#eaf1f5"/>
<rect x="366" y="89" width="10" height="7" fill="#b2d5e7"/>
<rect x="376" y="89" width="10" height="7" fill="#abd2e5"/>
<rect x="386" y="89" width="10" height="7" fill="#bbdaea"/>
<rect x="396" y="89" width="10" height="7" fill="#d1e5f0"/>
<rect x="406" y="89" width="10" height="7" fill="#daeaf2"/>
<rect x="416" y="89" width="10" height="7" fill="#e4eef4"/>
<rect x="426" y="89" width="11" height="7" fill="#eaf1f5"/>
<rect x="437" y="89" width="10" height="7" fill="#eef2f5"/>
<rect x="447" y="89" width="10" height="7" fill="#f1f4f6"/>
<rect x="457" y="89" width="10" height="7" fill="#f3f5f6"/>
<rect x="467" y="89" width="10" height="7" fill="#f5f6f7"/>
<rect x="477" y="89" width="10" height="7" fill="#f5f6f7"/>
<rect x="315" y="82" width="334" height="7" fill="#f7f7f7"/>
<rect x="315" y="82" width="10" height="7" fill="#fbceb6"/>
<rect x="325" y="82" width="10" height="7" fill="#fcd6c0"/>
<rect x="335" y="82" width="11" height="7" fill="#fcdfce"/>
<rect x="346" y="82" width="10" height="7" fill="#f9efe9"/>
<rect x="356" y="82" width="10" height="7" fill="#f3f5f6"/>
<rect x="366" y="82" width="10" height="7" fill="#c4dfec"/>
<rect x="376" y="82" width="10" height="7" fill="#abd2e5"/>
<rect x="386" y="82" width="10" height="7" fill="#bbdaea"/>
<rect x="396" y="82" width="10" height="7" fill="#d1e5f0"/>
<rect x="406" y="82" width="10" height="7" fill="#daeaf2"/>
<rect x="416" y="82" width="10" height="7" fill="#e4eef4"/>
<rect x="426" y="82" width="11" height="7" fill="#eaf1f5"/>
<rect x="437" y="82" width="10" height="7" fill="#eef2f5"/>
<rect x="447" y="82" width="10" height="7" fill="#f1f4f6"/>
<rect x="457" y="82" width="10" height="7" fill="#f3f5f6"/>
<rect x="467" y="82" width="10" height="7" fill="#f5f6f7"/>
<rect x="477" y="82" width="10" height="7" fill="#f5f6f7"/>
<rect x="315" y="74" width="334" height="8" fill="#f7f7f7"/>
<rect x="315" y="74" width="10" height="8" fill="#fbceb6"/>
<rect x="325" y="74" width="10" height="8" fill="#fcd6c0"/>
<rect x="335" y="74" width="11" height="8" fill="#fcdecc"/>
<rect x="346" y="74" width="10" height="8" fill="#f9efe9"/>
<rect x="356" y="74" width="10" height="8" fill="#f3f5f6"/>
<rect x="366" y="74" width="10" height="8" fill="#c4dfec"/>
<rect x="376" y="74" width="10" height="8" fill="#abd2e5"/>
<rect x="386" y="74" width="10" height="8" fill="#bbdaea"/>
<rect x="396" y="74" width="10" height="8" fill="#d1e5f0"/>
<rect x="406" y="74" width="10" height="8" fill="#daeaf2"/>
<rect x="416" y="74" width="10" height="8" fill="#e4eef4"/>
<rect x="426" y="74" width="11" height="8" fill="#eaf1f5"/>
<rect x="437" y="74" width="10" height="8" fill="#eef2f5"/>
<rect x="447" y="74" width="10" height="8" fill="#f1f4f6"/>
<rect x="457" y="74" width="10" height="8" fill="#f3f5f6"/>
<rect x="467" y="74" width="10" height="8" fill="#f5f6f7"/>
<rect x="477" y="74" width="10" height="8" fill="#f5f6f7"/>
<rect x="315" y="67" width="334" height="7" fill="#f7f7f7"/>
<rect x="315" y="67" width="10" height="7" fill="#fbceb6"/>
<rect x="325" y="67" width="10" height="7" fill="#fcd6c0"/>
<rect x="335" y="67" width="11" height="7" fill="#fcdecc"/>
<rect x="346" y="67" width="10" height="7" fill="#f9efe9"/>
<rect x="356" y="67" width="10" height="7" fill="#f3f5f6"/>
<rect x="366" y="67" width="10" height="7" fill="#c4dfec"/>
<rect x="376" y="67" width="10" height="7" fill="#abd2e5"/>
<rect x="386" y="67" width="10" height="7" fill="#bbdaea"/>
<rect x="396" y="67" width="10" height="7" fill="#d1e5f0"/>
<rect x="406" y="67" width="10" height="7" fill="#daeaf2"/>
<rect x="416" y="67" width="10" height="7" fill="#e4eef4"/>
<rect x="426" y="67" width="11" height="7" fill="#eaf1f5"/>
<rect x="437" y="67" width="10" height="7" fill="#eef2f5"/>
<rect x="447" y="67" width="10" height="7" fill="#f1f4f6"/>
<rect x="457" y="67" width="10" height="7" fill="#f3f5f6"/>
<rect x="467" y="67" width="10" height="7" fill="#f5f6f7"/>
<rect x="477" y="67" width="10" height="7" fill="#f5f6f7"/>
<rect x="315" y="60" width="334" height="7" fill="#f7f7f7"/>
<rect x="315" y="60" width="10" height="7" fill="#fbceb6"/>
<rect x="325" y="60" width="10" height="7" fill="#fcd6c0"/>
<rect x="335" y="60" width="11" height="7" fill="#fcdecc"/>
<rect x="346" y="60" width="10" height="7" fill="#f9efe9"/>
<rect x="356" y="60" width="10" height="7" fill="#f3f5f6"/>
<rect x="366" y="60" width="10" height="7" fill="#c4dfec"/>
<rect x="376" y="60" width="10" height="7" fill="#abd2e5"/>
<rect x="386" y="60" width="10" height="7" fill="#bbdaea"/>
<rect x="396" y="60" width="10" height="7" fill="#d1e5f0"/>
<rect x="406" y="60" width="10" height="7" fill="#daeaf2"/>
<rect x="416" y="60" width="10" height="7" fill="#e4eef4"/>
<rect x="426" y="60" width="11" height="7" fill="#eaf1f5"/>
<rect x="437" y="60" width="10" height="7" fill="#eef2f5"/>
<rect x="447" y="60" width="10" height="7" fill="#f1f4f6"/>
<rect x="457" y="60" width="10" height="7" fill="#f3f5f6"/>
<rect x="467" y="60" width="10" height="7" fill="#f5f6f7"/>
<rect x="477" y="60" width="10" height="7" fill="#f5f6f7"/>
<rect x="325" y="52" width="324" height="8" fill="#f7f7f7"/>
<rect x="325" y="52" width="10" height="8" fill="#fcd6c0"/>
<rect x="335" y="52" width="11" height="8" fill="#fce1d1"/>
<rect x="346" y="52" width="10" height="8" fill="#f9efe9"/>
<rect x="356" y="52" width="10" height="8" fill="#f3f5f6"/>
<rect x="366" y="52" width="10" height="8" fill="#c4dfec"/>
<rect x="376" y="52" width="10" height="8" fill="#abd2e5"/>
<rect x="386" y="52" width="10" height="8" fill="#bbdaea"/>
<rect x="396" y="52" width="10" height="8" fill="#d1e5f0"/>
<rect x="406" y="52" width="10" height="8" fill="#daeaf2"/>
<rect x="416" y="52" width="10" height="8" fill="#e4eef4"/>
<rect x="426" y="52" width="11" height="8" fill="#eaf1f5"/>
<rect x="437" y="52" width="10" height="8" fill="#eef2f5"/>
<rect x="447" y="52" width="10" height="8" fill="#f1f4f6"/>
<rect x="457" y="52" width="10" height="8" fill="#f3f5f6"/>
<rect x="467" y="52" width="10" height="8" fill="#f5f6f7"/>
<rect x="477" y="52" width="10" height="8" fill="#f5f6f7"/>
<rect x="325" y="45" width="314" height="7" fill="#f7f7f7"/>
<rect x="325" y="45" width="10" height="7" fill="#f8c0a4"/>
<rect x="335" y="45" width="11" height="7" fill="#fbe3d5"/>
<rect x="346" y="45" width="10" height="7" fill="#f9ede6"/>
<rect x="356" y="45" width="10" height="7" fill="#eef2f5"/>
<rect x="366" y="45" width="10" height="7" fill="#d1e5f0"/>
<rect x="376" y="45" width="10" height="7" fill="#b8d8e9"/>
<rect x="386" y="45" width="10" height="7" fill="#bbdaea"/>
<rect x="396" y="45" width="10" height="7" fill="#d1e5f0"/>
<rect x="406" y="45" width="10" height="7" fill="#dceaf2"/>
<rect x="416" y="45" width="10" height="7" fill="#e4eef4"/>
<rect x="426" y="45" width="11" height="7" fill="#eaf1f5"/>
<rect x="437" y="45" width="10" height="7" fill="#eef2f5"/>
<rect x="447" y="45" width="10" height="7" fill="#f1f4f6"/>
<rect x="457" y="45" width="10" height="7" fill="#f3f5f6"/>
<rect x="467" y="45" width="10" height="7" fill="#f5f6f7"/>
<rect x="477" y="45" width="10" height="7" fill="#f5f6f7"/>
</g>
<g shape-rendering="crispEdges">
<rect x="796" y="406" width="152" height="7" fill="#f7f7f7"/>
<rect x="796" y="406" width="10" height="7" fill="#fbe6da"/>
<rect x="806" y="406" width="11" height="7" fill="#f8f3f0"/>
<rect x="817" y="406" width="10" height="7" fill="#f5f6f7"/>
<rect x="796" y="398" width="162" height="8" fill="#f7f7f7"/>
<rect x="796" y="398" width="10" height="8" fill="#fddbc7"/>
<rect x="806" y="398" width="11" height="8" fill="#f8f3f0"/>
<rect x="817" y="398" width="10" height="8" fill="#f7f6f5"/>
<rect x="806" y="391" width="162" height="7" fill="#f7f7f7"/>
<rect x="806" y="391" width="11" height="7" fill="#f8f3f0"/>
<rect x="817" y="391" width="10" height="7" fill="#f5f6f7"/>
<rect x="806" y="384" width="172" height="7" fill="#f7f7f7"/>
<rect x="806" y="384" width="11" height="7" fill="#f9ede6"/>
<rect x="817" y="384" width="10" height="7" fill="#f7f6f5"/>
<rect x="827" y="384" width="10" height="7" fill="#f3f5f6"/>
<rect x="817" y="376" width="171" height="8" fill="#f7f7f7"/>
<rect x="817" y="376" width="10" height="8" fill="#f8f4f2"/>
<rect x="827" y="376" width="10" height="8" fill="#eef2f5"/>
<rect x="837" y="376" width="10" height="8" fill="#eff3f6"/>
<rect x="817" y="369" width="182" height="7" fill="#f7f7f7"/>
<rect x="817" y="369" width="10" height="7" fill="#f8f1ed"/>
<rect x="827" y="369" width="10" height="7" fill="#f1f4f6"/>
<rect x="837" y="369" width="10" height="7" fill="#f3f5f6"/>
<rect x="817" y="362" width="182" height="7" fill="#f7f7f7"/>
<rect x="817" y="362" width="10" height="7" fill="#fce2d3"/>
<rect x="827" y="362" width="10" height="7" fill="#eff3f6"/>
<rect x="837" y="362" width="10" height="7" fill="#ecf2f5"/>
<rect x="817" y="354" width="192" height="8" fill="#f7f7f7"/>
<rect x="817" y="354" width="10" height="8" fill="#fddbc7"/>
<rect x="827" y="354" width="10" height="8" fill="#f8f3f0"/>
<rect x="837" y="354" width="10" height="8" fill="#eef2f5"/>
<rect x="847" y="354" width="10" height="8" fill="#f3f5f6"/>
<rect x="827" y="347" width="192" height="7" fill="#f7f7f7"/>
<rect x="827" y="347" width="10" height="7" fill="#f8f4f2"/>
<rect x="837" y="347" width="10" height="7" fill="#ecf2f5"/>
<rect x="847" y="347" width="10" height="7" fill="#ecf2f5"/>
<rect x="827" y="339" width="202" height="8" fill="#f7f7f7"/>
<rect x="827" y="339" width="10" height="8" fill="#f8f3f0"/>
<rect x="847" y="339" width="10" height="8" fill="#eef2f5"/>
<rect x="857" y="339" width="10" height="8" fill="#f3f5f6"/>
<rect x="837" y="332" width="202" height="7" fill="#f7f7f7"/>
<rect x="837" y="332" width="10" height="7" fill="#f8f3f0"/>
<rect x="847" y="332" width="10" height="7" fill="#f3f5f6"/>
<rect x="857" y="332" width="10" height="7" fill="#f3f5f6"/>
<rect x="867" y="332" width="10" height="7" fill="#f3f5f6"/>
<rect x="837" y="325" width="202" height="7" fill="#f7f7f7"/>
<rect x="837" y="325" width="10" height="7" fill="#f8f1ed"/>
<rect x="857" y="325" width="10" height="7" fill="#eff3f6"/>
<rect x="867" y="325" width="10" height="7" fill="#eff3f6"/>
<rect x="847" y="317" width="202" height="8" fill="#f7f7f7"/>
<rect x="847" y="317" width="10" height="8" fill="#f8f3f0"/>
<rect x="857" y="317" width="10" height="8" fill="#eaf1f5"/>
<rect x="867" y="317" width="10" height="8" fill="#f1f4f6"/>
<rect x="847" y="310" width="212" height="7" fill="#f7f7f7"/>
<rect x="847" y="310" width="10" height="7" fill="#f8f4f2"/>
<rect x="857" y="310" width="10" height="7" fill="#eff3f6"/>
<rect x="867" y="310" width="10" height="7" fill="#eff3f6"/>
<rect x="847" y="303" width="212" height="7" fill="#f7f7f7"/>
<rect x="847" y="303" width="10" height="7" fill="#f9ede6"/>
<rect x="857" y="303" width="10" height="7" fill="#ecf2f5"/>
<rect x="867" y="303" width="10" height="7" fill="#eef2f5"/>
<rect x="857" y="295" width="212" height="8" fill="#f7f7f7"/>
<rect x="867" y="295" width="10" height="8" fill="#f3f5f6"/>
<rect x="877" y="295" width="10" height="8" fill="#f3f5f6"/>
<rect x="887" y="295" width="10" height="8" fill="#f3f5f6"/>
<rect x="857" y="288" width="222" height="7" fill="#f7f7f7"/>
<rect x="857" y="288" width="10" height="7" fill="#f8f3f0"/>
<rect x="867" y="288" width="10" height="7" fill="#eaf1f5"/>
<rect x="877" y="288" width="10" height="7" fill="#eef2f5"/>
<rect x="857" y="281" width="233" height="7" fill="#f7f7f7"/>
<rect x="857" y="281" width="10" height="7" fill="#f8f0eb"/>
<rect x="877" y="281" width="10" height="7" fill="#ecf2f5"/>
<rect x="887" y="281" width="10" height="7" fill="#eff3f6"/>
<rect x="867" y="273" width="223" height="8" fill="#f7f7f7"/>
<rect x="877" y="273" width="10" height="8" fill="#eaf1f5"/>
<rect x="897" y="273" width="11" height="8" fill="#f3f5f6"/>
<rect x="867" y="266" width="233" height="7" fill="#f7f7f7"/>
<rect x="867" y="266" width="10" height="7" fill="#f8f3f0"/>
<rect x="877" y="266" width="10" height="7" fill="#ecf2f5"/>
<rect x="887" y="266" width="10" height="7" fill="#f1f4f6"/>
<rect x="897" y="266" width="11" height="7" fill="#f3f5f6"/>
<rect x="908" y="266" width="10" height="7" fill="#f3f5f6"/>
<rect x="867" y="258" width="233" height="8" fill="#f7f7f7"/>
<rect x="867" y="258" width="10" height="8" fill="#f9ece4"/>
<rect x="897" y="258" width="11" height="8" fill="#f3f5f6"/>
<rect x="908" y="258" width="10" height="8" fill="#f3f5f6"/>
<rect x="867" y="251" width="243" height="7" fill="#f7f7f7"/>
<rect x="867" y="251" width="10" height="7" fill="#f9ede6"/>
<rect x="908" y="251" width="10" height="7" fill="#f1f4f6"/>
<rect x="918" y="251" width="10" height="7" fill="#f1f4f6"/>
<rect x="877" y="244" width="233" height="7" fill="#f7f7f7"/>
<rect x="877" y="244" width="10" height="7" fill="#f8f1ed"/>
<rect x="897" y="244" width="11" height="7" fill="#f3f5f6"/>
<rect x="928" y="244" width="10" height="7" fill="#f1f4f6"/>
<rect x="877" y="236" width="243" height="8" fill="#f7f7f7"/>
<rect x="877" y="236" width="10" height="8" fill="#f8f1ed"/>
<rect x="908" y="236" width="10" height="8" fill="#f1f4f6"/>
<rect x="918" y="236" width="10" height="8" fill="#f1f4f6"/>
<rect x="928" y="236" width="10" height="8" fill="#f1f4f6"/>
<rect x="877" y="229" width="253" height="7" fill="#f7f7f7"/>
<rect x="877" y="229" width="10" height="7" fill="#f8f1ed"/>
<rect x="908" y="229" width="10" height="7" fill="#f1f4f6"/>
<rect x="877" y="222" width="253" height="7" fill="#f7f7f7"/>
<rect x="877" y="222" width="10" height="7" fill="#faeae1"/>
<rect x="887" y="222" width="10" height="7" fill="#f7f6f5"/>
<rect x="918" y="222" width="10" height="7" fill="#f3f5f6"/>
<rect x="928" y="222" width="10" height="7" fill="#f1f4f6"/>
<rect x="877" y="214" width="253" height="8" fill="#f7f7f7"/>
<rect x="877" y="214" width="10" height="8" fill="#fae9df"/>
<rect x="887" y="214" width="10" height="8" fill="#f8f3f0"/>
<rect x="928" y="214" width="10" height="8" fill="#f1f4f6"/>
<rect x="887" y="207" width="253" height="7" fill="#f7f7f7"/>
<rect x="887" y="207" width="10" height="7" fill="#f8f0eb"/>
<rect x="928" y="207" width="10" height="7" fill="#f1f4f6"/>
<rect x="938" y="207" width="10" height="7" fill="#f1f4f6"/>
<rect x="887" y="199" width="253" height="8" fill="#f7f7f7"/>
<rect x="887" y="199" width="10" height="8" fill="#f9ede6"/>
<rect x="897" y="199" width="11" height="8" fill="#f8f4f2"/>
<rect x="928" y="199" width="10" height="8" fill="#f1f4f6"/>
<rect x="938" y="199" width="10" height="8" fill="#f1f4f6"/>
<rect x="887" y="192" width="263" height="7" fill="#f7f7f7"/>
<rect x="887" y="192" width="10" height="7" fill="#faeae1"/>
<rect x="897" y="192" width="11" height="7" fill="#f8f3f0"/>
<rect x="938" y="192" width="10" height="7" fill="#f3f5f6"/>
<rect x="948" y="192" width="10" height="7" fill="#f3f5f6"/>
<rect x="887" y="185" width="263" height="7" fill="#f7f7f7"/>
<rect x="887" y="185" width="10" height="7" fill="#faeae1"/>
<rect x="897" y="185" width="11" height="7" fill="#f8f1ed"/>
<rect x="928" y="185" width="10" height="7" fill="#f1f4f6"/>
<rect x="938" y="185" width="10" height="7" fill="#f3f5f6"/>
<rect x="897" y="177" width="263" height="8" fill="#f7f7f7"/>
<rect x="897" y="177" width="11" height="8" fill="#f8f1ed"/>
<rect x="908" y="177" width="10" height="8" fill="#f8f4f2"/>
<rect x="928" y="177" width="10" height="8" fill="#f1f4f6"/>
<rect x="938" y="177" width="10" height="8" fill="#f1f4f6"/>
<rect x="948" y="177" width="10" height="8" fill="#f3f5f6"/>
<rect x="897" y="170" width="263" height="7" fill="#f7f7f7"/>
<rect x="897" y="170" width="11" height="7" fill="#f8f0eb"/>
<rect x="908" y="170" width="10" height="7" fill="#f8f4f2"/>
<rect x="928" y="170" width="10" height="7" fill="#f1f4f6"/>
<rect x="938" y="170" width="10" height="7" fill="#f3f5f6"/>
<rect x="958" y="170" width="10" height="7" fill="#f1f4f6"/>
<rect x="897" y="163" width="263" height="7" fill="#f7f7f7"/>
<rect x="897" y="163" width="11" height="7" fill="#f9ede6"/>
<rect x="908" y="163" width="10" height="7" fill="#f7f6f5"/>
<rect x="938" y="163" width="10" height="7" fill="#f3f5f6"/>
<rect x="948" y="163" width="10" height="7" fill="#f3f5f6"/>
<rect x="958" y="163" width="10" height="7" fill="#f1f4f6"/>
<rect x="908" y="155" width="262" height="8" fill="#f7f7f7"/>
<rect x="908" y="155" width="10" height="8" fill="#f7f6f5"/>
<rect x="928" y="155" width="10" height="8" fill="#f1f4f6"/>
<rect x="938" y="155" width="10" height="8" fill="#f1f4f6"/>
<rect x="958" y="155" width="10" height="8" fill="#f1f4f6"/>
<rect x="897" y="148" width="273" height="7" fill="#f7f7f7"/>
<rect x="897" y="148" width="11" height="7" fill="#f9ede6"/>
<rect x="908" y="148" width="10" height="7" fill="#f8f3f0"/>
<rect x="978" y="148" width="10" height="7" fill="#f1f4f6"/>
<rect x="897" y="141" width="273" height="7" fill="#f7f7f7"/>
<rect x="897" y="141" width="11" height="7" fill="#f9ede6"/>
<rect x="908" y="141" width="10" height="7" fill="#f8f1ed"/>
<rect x="938" y="141" width="10" height="7" fill="#f3f5f6"/>
<rect x="948" y="141" width="10" height="7" fill="#f3f5f6"/>
<rect x="897" y="133" width="284" height="8" fill="#f7f7f7"/>
<rect x="897" y="133" width="11" height="8" fill="#fbe5d8"/>
<rect x="908" y="133" width="10" height="8" fill="#f8f1ed"/>
<rect x="918" y="133" width="10" height="8" fill="#f7f6f5"/>
<rect x="938" y="133" width="10" height="8" fill="#f1f4f6"/>
<rect x="948" y="133" width="10" height="8" fill="#f3f5f6"/>
<rect x="908" y="126" width="273" height="7" fill="#f7f7f7"/>
<rect x="908" y="126" width="10" height="7" fill="#f8f1ed"/>
<rect x="918" y="126" width="10" height="7" fill="#f7f6f5"/>
<rect x="938" y="126" width="10" height="7" fill="#eef2f5"/>
<rect x="948" y="126" width="10" height="7" fill="#f3f5f6"/>
<rect x="958" y="126" width="10" height="7" fill="#f3f5f6"/>
<rect x="908" y="118" width="273" height="8" fill="#f7f7f7"/>
<rect x="908" y="118" width="10" height="8" fill="#f9efe9"/>
<rect x="928" y="118" width="10" height="8" fill="#f3f5f6"/>
<rect x="948" y="118" width="10" height="8" fill="#f3f5f6"/>
<rect x="908" y="111" width="273" height="7" fill="#f7f7f7"/>
<rect x="908" y="111" width="10" height="7" fill="#f9efe9"/>
<rect x="918" y="111" width="10" height="7" fill="#f7f6f5"/>
<rect x="928" y="111" width="10" height="7" fill="#f3f5f6"/>
<rect x="938" y="111" width="10" height="7" fill="#f3f5f6"/>
<rect x="918" y="104" width="263" height="7" fill="#f7f7f7"/>
<rect x="918" y="104" width="10" height="7" fill="#f7f6f5"/>
<rect x="938" y="104" width="10" height="7" fill="#f3f5f6"/>
<rect x="948" y="104" width="10" height="7" fill="#f3f5f6"/>
<rect x="958" y="104" width="10" height="7" fill="#f3f5f6"/>
<rect x="908" y="96" width="283" height="8" fill="#f7f7f7"/>
<rect x="908" y="96" width="10" height="8" fill="#f9ece4"/>
<rect x="918" y="96" width="10" height="8" fill="#f8f4f2"/>
<rect x="938" y="96" width="10" height="8" fill="#f1f4f6"/>
<rect x="958" y="96" width="10" height="8" fill="#f3f5f6"/>
<rect x="918" y="89" width="273" height="7" fill="#f7f7f7"/>
<rect x="918" y="89" width="10" height="7" fill="#f8f1ed"/>
<rect x="948" y="89" width="10" height="7" fill="#f3f5f6"/>
<rect x="958" y="89" width="10" height="7" fill="#f3f5f6"/>
<rect x="1170" y="89" width="11" height="7" fill="#fff"/>
<rect x="918" y="82" width="273" height="7" fill="#f7f7f7"/>
<rect x="918" y="82" width="10" height="7" fill="#f9efe9"/>
<rect x="928" y="82" width="10" height="7" fill="#f7f6f5"/>
<rect x="958" y="82" width="10" height="7" fill="#f3f5f6"/>
<rect x="918" y="74" width="263" height="8" fill="#f7f7f7"/>
<rect x="918" y="74" width="10" height="8" fill="#f9efe9"/>
<rect x="948" y="74" width="10" height="8" fill="#eff3f6"/>
<rect x="978" y="74" width="10" height="8" fill="#eff3f6"/>
<rect x="918" y="67" width="263" height="7" fill="#f7f7f7"/>
<rect x="918" y="67" width="10" height="7" fill="#f9efe9"/>
<rect x="928" y="67" width="10" height="7" fill="#f7f6f5"/>
<rect x="918" y="60" width="263" height="7" fill="#f7f7f7"/>
<rect x="918" y="60" width="10" height="7" fill="#f8f1ed"/>
<rect x="958" y="60" width="10" height="7" fill="#f1f4f6"/>
<rect x="968" y="60" width="10" height="7" fill="#f1f4f6"/>
<rect x="918" y="52" width="252" height="8" fill="#f7f7f7"/>
<rect x="918" y="52" width="10" height="8" fill="#f8f1ed"/>
<rect x="948" y="52" width="10" height="8" fill="#f3f5f6"/>
<rect x="958" y="52" width="10" height="8" fill="#eff3f6"/>
<rect x="968" y="52" width="10" height="8" fill="#f3f5f6"/>
<rect x="918" y="45" width="263" height="7" fill="#f7f7f7"/>
<rect x="918" y="45" width="10" height="7" fill="#f8f3f0"/>
<rect x="928" y="45" width="10" height="7" fill="#f3f5f6"/>
<rect x="948" y="45" width="10" height="7" fill="#f3f5f6"/>
<rect x="978" y="45" width="10" height="7" fill="#f3f5f6"/>
<rect x="1160" y="45" width="10" height="7" fill="#fff"/>
<rect x="1150" y="45" width="10" height="7" fill="#fff"/>
</g>
<g shape-rendering="crispEdges">
<rect x="234" y="849" width="81" height="7" fill="#f7f7f7"/>
<rect x="234" y="849" width="10" height="7" fill="#d6604d"/>
<rect x="244" y="849" width="11" height="7" fill="#a5cfe3"/>
<rect x="255" y="849" width="10" height="7" fill="#246aae"/>
<rect x="265" y="849" width="10" height="7" fill="#a2cde2"/>
<rect x="275" y="849" width="10" height="7" fill="#e2edf3"/>
<rect x="285" y="849" width="10" height="7" fill="#eff3f6"/>
<rect x="234" y="841" width="91" height="8" fill="#f7f7f7"/>
<rect x="234" y="841" width="10" height="8" fill="#de715a"/>
<rect x="244" y="841" width="11" height="8" fill="#f8f0eb"/>
<rect x="255" y="841" width="10" height="8" fill="#1a5899"/>
<rect x="265" y="841" width="10" height="8" fill="#92c5de"/>
<rect x="275" y="841" width="10" height="8" fill="#dceaf2"/>
<rect x="285" y="841" width="10" height="8" fill="#eef2f5"/>
<rect x="295" y="841" width="10" height="8" fill="#f3f5f6"/>
<rect x="305" y="841" width="10" height="8" fill="#f4f6f7"/>
<rect x="315" y="841" width="10" height="8" fill="#f5f6f7"/>
<rect x="234" y="834" width="101" height="7" fill="#f7f7f7"/>
<rect x="234" y="834" width="10" height="7" fill="#de715a"/>
<rect x="244" y="834" width="11" height="7" fill="#fae8dd"/>
<rect x="255" y="834" width="10" height="7" fill="#5ba2cb"/>
<rect x="265" y="834" width="10" height="7" fill="#72b1d3"/>
<rect x="275" y="834" width="10" height="7" fill="#d1e5f0"/>
<rect x="285" y="834" width="10" height="7" fill="#e8f0f4"/>
<rect x="295" y="834" width="10" height="7" fill="#f1f4f6"/>
<rect x="305" y="834" width="10" height="7" fill="#f3f5f6"/>
<rect x="315" y="834" width="10" height="7" fill="#f5f6f7"/>
<rect x="325" y="834" width="10" height="7" fill="#f5f6f7"/>
<rect x="234" y="827" width="101" height="7" fill="#f7f7f7"/>
<rect x="234" y="827" width="10" height="7" fill="#67001f"/>
<rect x="244" y="827" width="11" height="7" fill="#fcd3bd"/>
<rect x="255" y="827" width="10" height="7" fill="#d1e5f0"/>
<rect x="265" y="827" width="10" height="7" fill="#86beda"/>
<rect x="275" y="827" width="10" height="7" fill="#c8e0ed"/>
<rect x="285" y="827" width="10" height="7" fill="#e6eff4"/>
<rect x="295" y="827" width="10" height="7" fill="#eff3f6"/>
<rect x="305" y="827" width="10" height="7" fill="#f2f5f6"/>
<rect x="315" y="827" width="10" height="7" fill="#f4f5f6"/>
<rect x="325" y="827" width="10" height="7" fill="#f5f6f7"/>
<rect x="244" y="819" width="102" height="8" fill="#f7f7f7"/>
<rect x="244" y="819" width="11" height="8" fill="#f4a582"/>
<rect x="255" y="819" width="10" height="8" fill="#f9ece4"/>
<rect x="265" y="819" width="10" height="8" fill="#a5cfe3"/>
<rect x="275" y="819" width="10" height="8" fill="#c4dfec"/>
<rect x="285" y="819" width="10" height="8" fill="#e2edf3"/>
<rect x="295" y="819" width="10" height="8" fill="#eef2f5"/>
<rect x="305" y="819" width="10" height="8" fill="#f3f5f6"/>
<rect x="315" y="819" width="10" height="8" fill="#f4f6f7"/>
<rect x="325" y="819" width="10" height="8" fill="#f5f6f7"/>
<rect x="244" y="812" width="112" height="7" fill="#f7f7f7"/>
<rect x="244" y="812" width="11" height="7" fill="#df755d"/>
<rect x="255" y="812" width="10" height="7" fill="#fcdfce"/>
<rect x="265" y="812" width="10" height="7" fill="#d1e5f0"/>
<rect x="275" y="812" width="10" height="7" fill="#d1e5f0"/>
<rect x="285" y="812" width="10" height="7" fill="#e2edf3"/>
<rect x="295" y="812" width="10" height="7" fill="#ecf2f5"/>
<rect x="305" y="812" width="10" height="7" fill="#f3f5f6"/>
<rect x="315" y="812" width="10" height="7" fill="#f4f6f7"/>
<rect x="325" y="812" width="10" height="7" fill="#f5f6f7"/>
<rect x="244" y="805" width="112" height="7" fill="#f7f7f7"/>
<rect x="244" y="805" width="11" height="7" fill="#df755d"/>
<rect x="255" y="805" width="10" height="7" fill="#f8c0a4"/>
<rect x="265" y="805" width="10" height="7" fill="#f8f3f0"/>
<rect x="275" y="805" width="10" height="7" fill="#cee3ef"/>
<rect x="285" y="805" width="10" height="7" fill="#dceaf2"/>
<rect x="295" y="805" width="10" height="7" fill="#eaf1f5"/>
<rect x="305" y="805" width="10" height="7" fill="#f1f4f6"/>
<rect x="315" y="805" width="10" height="7" fill="#f3f5f6"/>
<rect x="325" y="805" width="10" height="7" fill="#f5f6f7"/>
<rect x="335" y="805" width="11" height="7" fill="#f5f6f7"/>
<rect x="244" y="797" width="122" height="8" fill="#f7f7f7"/>
<rect x="244" y="797" width="11" height="8" fill="#f4a885"/>
<rect x="255" y="797" width="10" height="8" fill="#f19e7d"/>
<rect x="265" y="797" width="10" height="8" fill="#fbe3d5"/>
<rect x="275" y="797" width="10" height="8" fill="#dceaf2"/>
<rect x="285" y="797" width="10" height="8" fill="#daeaf2"/>
<rect x="295" y="797" width="10" height="8" fill="#e8f0f4"/>
<rect x="305" y="797" width="10" height="8" fill="#eff3f6"/>
<rect x="315" y="797" width="10" height="8" fill="#f3f5f6"/>
<rect x="325" y="797" width="10" height="8" fill="#f4f6f7"/>
<rect x="335" y="797" width="11" height="8" fill="#f5f6f7"/>
<rect x="255" y="790" width="111" height="7" fill="#f7f7f7"/>
<rect x="255" y="790" width="10" height="7" fill="#e27c62"/>
<rect x="265" y="790" width="10" height="7" fill="#fcd3bd"/>
<rect x="285" y="790" width="10" height="7" fill="#d5e7f1"/>
<rect x="295" y="790" width="10" height="7" fill="#e4eef4"/>
<rect x="305" y="790" width="10" height="7" fill="#eef2f5"/>
<rect x="315" y="790" width="10" height="7" fill="#f3f5f6"/>
<rect x="325" y="790" width="10" height="7" fill="#f4f6f7"/>
<rect x="335" y="790" width="11" height="7" fill="#f5f6f7"/>
<rect x="255" y="782" width="121" height="8" fill="#f7f7f7"/>
<rect x="255" y="782" width="10" height="8" fill="#d96752"/>
<rect x="265" y="782" width="10" height="8" fill="#f6b293"/>
<rect x="275" y="782" width="10" height="8" fill="#f9ece4"/>
<rect x="285" y="782" width="10" height="8" fill="#d7e8f1"/>
<rect x="295" y="782" width="10" height="8" fill="#e0ecf3"/>
<rect x="305" y="782" width="10" height="8" fill="#eef2f5"/>
<rect x="315" y="782" width="10" height="8" fill="#f1f4f6"/>
<rect x="325" y="782" width="10" height="8" fill="#f3f5f6"/>
<rect x="335" y="782" width="11" height="8" fill="#f5f6f7"/>
<rect x="346" y="782" width="10" height="8" fill="#f5f6f7"/>
<rect x="255" y="775" width="121" height="7" fill="#f7f7f7"/>
<rect x="255" y="775" width="10" height="7" fill="#e58268"/>
<rect x="265" y="775" width="10" height="7" fill="#e58268"/>
<rect x="275" y="775" width="10" height="7" fill="#fce2d3"/>
<rect x="285" y="775" width="10" height="7" fill="#f3f5f6"/>
<rect x="295" y="775" width="10" height="7" fill="#deebf2"/>
<rect x="305" y="775" width="10" height="7" fill="#eaf1f5"/>
<rect x="315" y="775" width="10" height="7" fill="#eff3f6"/>
<rect x="325" y="775" width="10" height="7" fill="#f3f5f6"/>
<rect x="335" y="775" width="11" height="7" fill="#f4f6f7"/>
<rect x="346" y="775" width="10" height="7" fill="#f5f6f7"/>
<rect x="255" y="768" width="131" height="7" fill="#f7f7f7"/>
<rect x="255" y="768" width="10" height="7" fill="#bf3137"/>
<rect x="265" y="768" width="10" height="7" fill="#e58268"/>
<rect x="275" y="768" width="10" height="7" fill="#f9c3a8"/>
<rect x="285" y="768" width="10" height="7" fill="#f8f3f0"/>
<rect x="295" y="768" width="10" height="7" fill="#deebf2"/>
<rect x="305" y="768" width="10" height="7" fill="#e8f0f4"/>
<rect x="315" y="768" width="10" height="7" fill="#eff3f6"/>
<rect x="325" y="768" width="10" height="7" fill="#f3f5f6"/>
<rect x="335" y="768" width="11" height="7" fill="#f4f6f7"/>
<rect x="346" y="768" width="10" height="7" fill="#f5f6f7"/>
<rect x="265" y="760" width="121" height="8" fill="#f7f7f7"/>
<rect x="265" y="760" width="10" height="8" fill="#d96752"/>
<rect x="275" y="760" width="10" height="8" fill="#f6b090"/>
<rect x="285" y="760" width="10" height="8" fill="#fae8dd"/>
<rect x="295" y="760" width="10" height="8" fill="#e2edf3"/>
<rect x="305" y="760" width="10" height="8" fill="#e6eff4"/>
<rect x="315" y="760" width="10" height="8" fill="#eef2f5"/>
<rect x="325" y="760" width="10" height="8" fill="#f1f4f6"/>
<rect x="335" y="760" width="11" height="8" fill="#f3f5f6"/>
<rect x="346" y="760" width="10" height="8" fill="#f5f6f7"/>
<rect x="356" y="760" width="10" height="8" fill="#f5f6f7"/>
<rect x="265" y="753" width="131" height="7" fill="#f7f7f7"/>
<rect x="265" y="753" width="10" height="7" fill="#d6604d"/>
<rect x="275" y="753" width="10" height="7" fill="#e8896d"/>
<rect x="285" y="753" width="10" height="7" fill="#fce1d1"/>
<rect x="295" y="753" width="10" height="7" fill="#eff3f6"/>
<rect x="305" y="753" width="10" height="7" fill="#daeaf2"/>
<rect x="315" y="753" width="10" height="7" fill="#e6eff4"/>
<rect x="325" y="753" width="10" height="7" fill="#eef2f5"/>
<rect x="335" y="753" width="11" height="7" fill="#f1f4f6"/>
<rect x="346" y="753" width="10" height="7" fill="#f3f5f6"/>
<rect x="356" y="753" width="10" height="7" fill="#f4f6f7"/>
<rect x="366" y="753" width="10" height="7" fill="#f5f6f7"/>
<rect x="265" y="746" width="131" height="7" fill="#f7f7f7"/>
<rect x="265" y="746" width="10" height="7" fill="#d6604d"/>
<rect x="275" y="746" width="10" height="7" fill="#e27c62"/>
<rect x="285" y="746" width="10" height="7" fill="#f9c5ab"/>
<rect x="295" y="746" width="10" height="7" fill="#f7f6f5"/>
<rect x="305" y="746" width="10" height="7" fill="#d5e7f1"/>
<rect x="315" y="746" width="10" height="7" fill="#e4eef4"/>
<rect x="325" y="746" width="10" height="7" fill="#eef2f5"/>
<rect x="335" y="746" width="11" height="7" fill="#f1f4f6"/>
<rect x="346" y="746" width="10" height="7" fill="#f3f5f6"/>
<rect x="356" y="746" width="10" height="7" fill="#f4f6f7"/>
<rect x="366" y="746" width="10" height="7" fill="#f5f6f7"/>
<rect x="265" y="738" width="141" height="8" fill="#f7f7f7"/>
<rect x="265" y="738" width="10" height="8" fill="#981027"/>
<rect x="275" y="738" width="10" height="8" fill="#dc6e58"/>
<rect x="285" y="738" width="10" height="8" fill="#f6b293"/>
<rect x="295" y="738" width="10" height="8" fill="#f9ede6"/>
<rect x="305" y="738" width="10" height="8" fill="#deebf2"/>
<rect x="315" y="738" width="10" height="8" fill="#e4eef4"/>
<rect x="325" y="738" width="10" height="8" fill="#ecf2f5"/>
<rect x="335" y="738" width="11" height="8" fill="#eff3f6"/>
<rect x="346" y="738" width="10" height="8" fill="#f3f5f6"/>
<rect x="356" y="738" width="10" height="8" fill="#f4f6f7"/>
<rect x="366" y="738" width="10" height="8" fill="#f5f6f7"/>
<rect x="275" y="731" width="131" height="7" fill="#f7f7f7"/>
<rect x="275" y="731" width="10" height="7" fill="#c8433f"/>
<rect x="285" y="731" width="10" height="7" fill="#ec9475"/>
<rect x="295" y="731" width="10" height="7" fill="#fbe5d8"/>
<rect x="305" y="731" width="10" height="7" fill="#e2edf3"/>
<rect x="315" y="731" width="10" height="7" fill="#e0ecf3"/>
<rect x="325" y="731" width="10" height="7" fill="#ecf2f5"/>
<rect x="335" y="731" width="11" height="7" fill="#eef2f5"/>
<rect x="346" y="731" width="10" height="7" fill="#f1f4f6"/>
<rect x="356" y="731" width="10" height="7" fill="#f3f5f6"/>
<rect x="366" y="731" width="10" height="7" fill="#f5f6f7"/>
<rect x="376" y="731" width="10" height="7" fill="#f5f6f7"/>
<rect x="275" y="724" width="131" height="7" fill="#f7f7f7"/>
<rect x="275" y="724" width="10" height="7" fill="#cf5246"/>
<rect x="285" y="724" width="10" height="7" fill="#e58268"/>
<rect x="295" y="724" width="10" height="7" fill="#fddbc7"/>
<rect x="315" y="724" width="10" height="7" fill="#dceaf2"/>
<rect x="325" y="724" width="10" height="7" fill="#e8f0f4"/>
<rect x="335" y="724" width="11" height="7" fill="#eef2f5"/>
<rect x="346" y="724" width="10" height="7" fill="#f1f4f6"/>
<rect x="356" y="724" width="10" height="7" fill="#f3f5f6"/>
<rect x="366" y="724" width="10" height="7" fill="#f4f6f7"/>
<rect x="376" y="724" width="10" height="7" fill="#f5f6f7"/>
<rect x="275" y="716" width="141" height="8" fill="#f7f7f7"/>
<rect x="275" y="716" width="10" height="8" fill="#d6604d"/>
<rect x="285" y="716" width="10" height="8" fill="#e27c62"/>
<rect x="295" y="716" width="10" height="8" fill="#f9c3a8"/>
<rect x="305" y="716" width="10" height="8" fill="#f8f1ed"/>
<rect x="315" y="716" width="10" height="8" fill="#daeaf2"/>
<rect x="325" y="716" width="10" height="8" fill="#e4eef4"/>
<rect x="335" y="716" width="11" height="8" fill="#ecf2f5"/>
<rect x="346" y="716" width="10" height="8" fill="#eff3f6"/>
<rect x="356" y="716" width="10" height="8" fill="#f3f5f6"/>
<rect x="366" y="716" width="10" height="8" fill="#f4f6f7"/>
<rect x="376" y="716" width="10" height="8" fill="#f5f6f7"/>
<rect x="275" y="709" width="141" height="7" fill="#f7f7f7"/>
<rect x="275" y="709" width="10" height="7" fill="#d15548"/>
<rect x="285" y="709" width="10" height="7" fill="#dc6e58"/>
<rect x="295" y="709" width="10" height="7" fill="#f5ad8c"/>
<rect x="305" y="709" width="10" height="7" fill="#faeae1"/>
<rect x="315" y="709" width="10" height="7" fill="#d3e6f0"/>
<rect x="325" y="709" width="10" height="7" fill="#e4eef4"/>
<rect x="335" y="709" width="11" height="7" fill="#ecf2f5"/>
<rect x="346" y="709" width="10" height="7" fill="#eff3f6"/>
<rect x="356" y="709" width="10" height="7" fill="#f3f5f6"/>
<rect x="366" y="709" width="10" height="7" fill="#f4f6f7"/>
<rect x="376" y="709" width="10" height="7" fill="#f5f6f7"/>
<rect x="285" y="701" width="141" height="8" fill="#f7f7f7"/>
<rect x="285" y="701" width="10" height="8" fill="#d15548"/>
<rect x="295" y="701" width="10" height="8" fill="#eb9072"/>
<rect x="305" y="701" width="10" height="8" fill="#fbe6da"/>
<rect x="315" y="701" width="10" height="8" fill="#e6eff4"/>
<rect x="325" y="701" width="10" height="8" fill="#dceaf2"/>
<rect x="335" y="701" width="11" height="8" fill="#eaf1f5"/>
<rect x="346" y="701" width="10" height="8" fill="#eff3f6"/>
<rect x="356" y="701" width="10" height="8" fill="#f1f4f6"/>
<rect x="366" y="701" width="10" height="8" fill="#f3f5f6"/>
<rect x="376" y="701" width="10" height="8" fill="#f5f6f7"/>
<rect x="386" y="701" width="10" height="8" fill="#f5f6f7"/>
<rect x="285" y="694" width="141" height="7" fill="#f7f7f7"/>
<rect x="285" y="694" width="10" height="7" fill="#d15548"/>
<rect x="295" y="694" width="10" height="7" fill="#e8896d"/>
<rect x="305" y="694" width="10" height="7" fill="#fcdecc"/>
<rect x="325" y="694" width="10" height="7" fill="#d9e9f1"/>
<rect x="335" y="694" width="11" height="7" fill="#e8f0f4"/>
<rect x="346" y="694" width="10" height="7" fill="#eef2f5"/>
<rect x="356" y="694" width="10" height="7" fill="#f1f4f6"/>
<rect x="366" y="694" width="10" height="7" fill="#f3f5f6"/>
<rect x="376" y="694" width="10" height="7" fill="#f5f6f7"/>
<rect x="386" y="694" width="10" height="7" fill="#f5f6f7"/>
<rect x="285" y="687" width="141" height="7" fill="#f7f7f7"/>
<rect x="285" y="687" width="10" height="7" fill="#c94741"/>
<rect x="295" y="687" width="10" height="7" fill="#e07860"/>
<rect x="305" y="687" width="10" height="7" fill="#fac8af"/>
<rect x="315" y="687" width="10" height="7" fill="#f8f3f0"/>
<rect x="325" y="687" width="10" height="7" fill="#d7e8f1"/>
<rect x="335" y="687" width="11" height="7" fill="#e6eff4"/>
<rect x="346" y="687" width="10" height="7" fill="#eef2f5"/>
<rect x="356" y="687" width="10" height="7" fill="#f1f4f6"/>
<rect x="366" y="687" width="10" height="7" fill="#f3f5f6"/>
<rect x="376" y="687" width="10" height="7" fill="#f5f6f7"/>
<rect x="386" y="687" width="10" height="7" fill="#f5f6f7"/>
<rect x="285" y="679" width="152" height="8" fill="#f7f7f7"/>
<rect x="285" y="679" width="10" height="8" fill="#bb2a34"/>
<rect x="295" y="679" width="10" height="8" fill="#e07860"/>
<rect x="305" y="679" width="10" height="8" fill="#f7b89a"/>
<rect x="315" y="679" width="10" height="8" fill="#f9ede6"/>
<rect x="325" y="679" width="10" height="8" fill="#d7e8f1"/>
<rect x="335" y="679" width="11" height="8" fill="#e4eef4"/>
<rect x="346" y="679" width="10" height="8" fill="#ecf2f5"/>
<rect x="356" y="679" width="10" height="8" fill="#eff3f6"/>
<rect x="366" y="679" width="10" height="8" fill="#f3f5f6"/>
<rect x="376" y="679" width="10" height="8" fill="#f4f6f7"/>
<rect x="386" y="679" width="10" height="8" fill="#f5f6f7"/>
<rect x="285" y="672" width="152" height="7" fill="#f7f7f7"/>
<rect x="285" y="672" width="10" height="7" fill="#ea8d6f"/>
<rect x="295" y="672" width="10" height="7" fill="#dc6e58"/>
<rect x="305" y="672" width="10" height="7" fill="#f5aa89"/>
<rect x="315" y="672" width="10" height="7" fill="#fbe5d8"/>
<rect x="325" y="672" width="10" height="7" fill="#ecf2f5"/>
<rect x="335" y="672" width="11" height="7" fill="#d9e9f1"/>
<rect x="346" y="672" width="10" height="7" fill="#ecf2f5"/>
<rect x="356" y="672" width="10" height="7" fill="#eef2f5"/>
<rect x="366" y="672" width="10" height="7" fill="#f3f5f6"/>
<rect x="376" y="672" width="10" height="7" fill="#f4f6f7"/>
<rect x="386" y="672" width="10" height="7" fill="#f5f6f7"/>
<rect x="295" y="665" width="152" height="7" fill="#f7f7f7"/>
<rect x="295" y="665" width="10" height="7" fill="#de715a"/>
<rect x="305" y="665" width="10" height="7" fill="#f09b7a"/>
<rect x="315" y="665" width="10" height="7" fill="#fcdfce"/>
<rect x="325" y="665" width="10" height="7" fill="#f3f5f6"/>
<rect x="335" y="665" width="11" height="7" fill="#d7e8f1"/>
<rect x="346" y="665" width="10" height="7" fill="#e8f0f4"/>
<rect x="356" y="665" width="10" height="7" fill="#eef2f5"/>
<rect x="366" y="665" width="10" height="7" fill="#f1f4f6"/>
<rect x="376" y="665" width="10" height="7" fill="#f1f4f6"/>
<rect x="386" y="665" width="10" height="7" fill="#f3f5f6"/>
<rect x="396" y="665" width="10" height="7" fill="#f5f6f7"/>
<rect x="406" y="665" width="10" height="7" fill="#f5f6f7"/>
<rect x="295" y="657" width="152" height="8" fill="#f7f7f7"/>
<rect x="295" y="657" width="10" height="8" fill="#dc6e58"/>
<rect x="305" y="657" width="10" height="8" fill="#e8896d"/>
<rect x="315" y="657" width="10" height="8" fill="#fcdecc"/>
<rect x="335" y="657" width="11" height="8" fill="#d1e5f0"/>
<rect x="346" y="657" width="10" height="8" fill="#e4eef4"/>
<rect x="356" y="657" width="10" height="8" fill="#ecf2f5"/>
<rect x="366" y="657" width="10" height="8" fill="#eff3f6"/>
<rect x="376" y="657" width="10" height="8" fill="#f1f4f6"/>
<rect x="386" y="657" width="10" height="8" fill="#f3f5f6"/>
<rect x="396" y="657" width="10" height="8" fill="#f4f6f7"/>
<rect x="406" y="657" width="10" height="8" fill="#f5f6f7"/>
<rect x="295" y="650" width="152" height="7" fill="#f7f7f7"/>
<rect x="295" y="650" width="10" height="7" fill="#d96752"/>
<rect x="305" y="650" width="10" height="7" fill="#e8896d"/>
<rect x="315" y="650" width="10" height="7" fill="#fbd0b9"/>
<rect x="325" y="650" width="10" height="7" fill="#f7f6f5"/>
<rect x="335" y="650" width="11" height="7" fill="#d3e6f0"/>
<rect x="346" y="650" width="10" height="7" fill="#e0ecf3"/>
<rect x="356" y="650" width="10" height="7" fill="#ecf2f5"/>
<rect x="366" y="650" width="10" height="7" fill="#eff3f6"/>
<rect x="376" y="650" width="10" height="7" fill="#f1f4f6"/>
<rect x="386" y="650" width="10" height="7" fill="#f3f5f6"/>
<rect x="396" y="650" width="10" height="7" fill="#f5f6f7"/>
<rect x="406" y="650" width="10" height="7" fill="#f5f6f7"/>
<rect x="295" y="642" width="162" height="8" fill="#f7f7f7"/>
<rect x="295" y="642" width="10" height="8" fill="#e27c62"/>
<rect x="305" y="642" width="10" height="8" fill="#ea8d6f"/>
<rect x="315" y="642" width="10" height="8" fill="#f7b89a"/>
<rect x="325" y="642" width="10" height="8" fill="#f9ece4"/>
<rect x="335" y="642" width="11" height="8" fill="#dceaf2"/>
<rect x="346" y="642" width="10" height="8" fill="#dceaf2"/>
<rect x="356" y="642" width="10" height="8" fill="#eaf1f5"/>
<rect x="366" y="642" width="10" height="8" fill="#eef2f5"/>
<rect x="376" y="642" width="10" height="8" fill="#f1f4f6"/>
<rect x="386" y="642" width="10" height="8" fill="#f3f5f6"/>
<rect x="396" y="642" width="10" height="8" fill="#f5f6f7"/>
<rect x="406" y="642" width="10" height="8" fill="#f5f6f7"/>
<rect x="295" y="635" width="162" height="7" fill="#f7f7f7"/>
<rect x="295" y="635" width="10" height="7" fill="#d96752"/>
<rect x="305" y="635" width="10" height="7" fill="#e47f65"/>
<rect x="315" y="635" width="10" height="7" fill="#f7b597"/>
<rect x="325" y="635" width="10" height="7" fill="#f9ece4"/>
<rect x="335" y="635" width="11" height="7" fill="#e2edf3"/>
<rect x="346" y="635" width="10" height="7" fill="#e2edf3"/>
<rect x="356" y="635" width="10" height="7" fill="#e8f0f4"/>
<rect x="366" y="635" width="10" height="7" fill="#eef2f5"/>
<rect x="376" y="635" width="10" height="7" fill="#eff3f6"/>
<rect x="386" y="635" width="10" height="7" fill="#f2f5f6"/>
<rect x="396" y="635" width="10" height="7" fill="#f4f5f6"/>
<rect x="406" y="635" width="10" height="7" fill="#f5f6f7"/>
<rect x="295" y="628" width="162" height="7" fill="#f7f7f7"/>
<rect x="295" y="628" width="10" height="7" fill="#f4a582"/>
<rect x="305" y="628" width="10" height="7" fill="#e47f65"/>
<rect x="315" y="628" width="10" height="7" fill="#f6b090"/>
<rect x="325" y="628" width="10" height="7" fill="#fae9df"/>
<rect x="335" y="628" width="11" height="7" fill="#e4eef4"/>
<rect x="346" y="628" width="10" height="7" fill="#dceaf2"/>
<rect x="356" y="628" width="10" height="7" fill="#e8f0f4"/>
<rect x="366" y="628" width="10" height="7" fill="#eef2f5"/>
<rect x="376" y="628" width="10" height="7" fill="#eff3f6"/>
<rect x="386" y="628" width="10" height="7" fill="#f2f5f6"/>
<rect x="396" y="628" width="10" height="7" fill="#f4f5f6"/>
<rect x="406" y="628" width="10" height="7" fill="#f5f6f7"/>
<rect x="295" y="620" width="162" height="8" fill="#f7f7f7"/>
<rect x="295" y="620" width="10" height="8" fill="#67001f"/>
<rect x="305" y="620" width="10" height="8" fill="#e27c62"/>
<rect x="315" y="620" width="10" height="8" fill="#f4a582"/>
<rect x="325" y="620" width="10" height="8" fill="#fce1d1"/>
<rect x="335" y="620" width="11" height="8" fill="#eff3f6"/>
<rect x="346" y="620" width="10" height="8" fill="#d5e7f1"/>
<rect x="356" y="620" width="10" height="8" fill="#e8f0f4"/>
<rect x="366" y="620" width="10" height="8" fill="#ecf2f5"/>
<rect x="376" y="620" width="10" height="8" fill="#eff3f6"/>
<rect x="386" y="620" width="10" height="8" fill="#f2f5f6"/>
<rect x="396" y="620" width="10" height="8" fill="#f4f5f6"/>
<rect x="406" y="620" width="10" height="8" fill="#f5f6f7"/>
<rect x="305" y="613" width="162" height="7" fill="#f7f7f7"/>
<rect x="305" y="613" width="10" height="7" fill="#df755d"/>
<rect x="315" y="613" width="10" height="7" fill="#f4a582"/>
<rect x="325" y="613" width="10" height="7" fill="#fcdfce"/>
<rect x="335" y="613" width="11" height="7" fill="#f3f5f6"/>
<rect x="346" y="613" width="10" height="7" fill="#d5e7f1"/>
<rect x="356" y="613" width="10" height="7" fill="#e4eef4"/>
<rect x="366" y="613" width="10" height="7" fill="#ecf2f5"/>
<rect x="376" y="613" width="10" height="7" fill="#eff3f6"/>
<rect x="386" y="613" width="10" height="7" fill="#f2f5f6"/>
<rect x="396" y="613" width="10" height="7" fill="#f4f5f6"/>
<rect x="406" y="613" width="10" height="7" fill="#f5f6f7"/>
<rect x="305" y="606" width="162" height="7" fill="#f7f7f7"/>
<rect x="305" y="606" width="10" height="7" fill="#ea8d6f"/>
<rect x="315" y="606" width="10" height="7" fill="#e8896d"/>
<rect x="325" y="606" width="10" height="7" fill="#fcdecc"/>
<rect x="346" y="606" width="10" height="7" fill="#dceaf2"/>
<rect x="356" y="606" width="10" height="7" fill="#e0ecf3"/>
<rect x="366" y="606" width="10" height="7" fill="#ecf2f5"/>
<rect x="376" y="606" width="10" height="7" fill="#eff3f6"/>
<rect x="386" y="606" width="10" height="7" fill="#f2f5f6"/>
<rect x="396" y="606" width="10" height="7" fill="#f4f5f6"/>
<rect x="406" y="606" width="10" height="7" fill="#f5f6f7"/>
<rect x="305" y="598" width="162" height="8" fill="#f7f7f7"/>
<rect x="305" y="598" width="10" height="8" fill="#e8896d"/>
<rect x="315" y="598" width="10" height="8" fill="#f19e7d"/>
<rect x="325" y="598" width="10" height="8" fill="#fcd6c0"/>
<rect x="335" y="598" width="11" height="8" fill="#f8f1ed"/>
<rect x="346" y="598" width="10" height="8" fill="#d3e6f0"/>
<rect x="356" y="598" width="10" height="8" fill="#e2edf3"/>
<rect x="366" y="598" width="10" height="8" fill="#eaf1f5"/>
<rect x="376" y="598" width="10" height="8" fill="#eef2f5"/>
<rect x="386" y="598" width="10" height="8" fill="#f1f4f6"/>
<rect x="396" y="598" width="10" height="8" fill="#f3f5f6"/>
<rect x="406" y="598" width="10" height="8" fill="#f4f6f6"/>
<rect x="416" y="598" width="10" height="8" fill="#f5f6f7"/>
<rect x="305" y="591" width="162" height="7" fill="#f7f7f7"/>
<rect x="305" y="591" width="10" height="7" fill="#f9c3a8"/>
<rect x="315" y="591" width="10" height="7" fill="#f4a582"/>
<rect x="325" y="591" width="10" height="7" fill="#f9c3a8"/>
<rect x="335" y="591" width="11" height="7" fill="#f8f1ed"/>
<rect x="346" y="591" width="10" height="7" fill="#ecf2f5"/>
<rect x="356" y="591" width="10" height="7" fill="#dceaf2"/>
<rect x="366" y="591" width="10" height="7" fill="#e8f0f4"/>
<rect x="376" y="591" width="10" height="7" fill="#eef2f5"/>
<rect x="386" y="591" width="10" height="7" fill="#f1f4f6"/>
<rect x="396" y="591" width="10" height="7" fill="#f3f5f6"/>
<rect x="406" y="591" width="10" height="7" fill="#f4f6f6"/>
<rect x="416" y="591" width="10" height="7" fill="#f5f6f7"/>
<rect x="305" y="583" width="162" height="8" fill="#f7f7f7"/>
<rect x="305" y="583" width="10" height="8" fill="#7a0622"/>
<rect x="315" y="583" width="10" height="8" fill="#f4a582"/>
<rect x="325" y="583" width="10" height="8" fill="#f8bda1"/>
<rect x="335" y="583" width="11" height="8" fill="#f9efe9"/>
<rect x="346" y="583" width="10" height="8" fill="#e2edf3"/>
<rect x="356" y="583" width="10" height="8" fill="#dceaf2"/>
<rect x="366" y="583" width="10" height="8" fill="#eaf1f5"/>
<rect x="376" y="583" width="10" height="8" fill="#eef2f5"/>
<rect x="386" y="583" width="10" height="8" fill="#f1f4f6"/>
<rect x="396" y="583" width="10" height="8" fill="#f3f5f6"/>
<rect x="406" y="583" width="10" height="8" fill="#f4f6f6"/>
<rect x="416" y="583" width="10" height="8" fill="#f5f6f7"/>
<rect x="315" y="576" width="162" height="7" fill="#f7f7f7"/>
<rect x="315" y="576" width="10" height="7" fill="#f5aa89"/>
<rect x="325" y="576" width="10" height="7" fill="#f8bb9e"/>
<rect x="335" y="576" width="11" height="7" fill="#faeae1"/>
<rect x="346" y="576" width="10" height="7" fill="#e2edf3"/>
<rect x="356" y="576" width="10" height="7" fill="#daeaf2"/>
<rect x="366" y="576" width="10" height="7" fill="#e8f0f4"/>
<rect x="376" y="576" width="10" height="7" fill="#eef2f5"/>
<rect x="386" y="576" width="10" height="7" fill="#f1f4f6"/>
<rect x="396" y="576" width="10" height="7" fill="#f3f5f6"/>
<rect x="406" y="576" width="10" height="7" fill="#f4f6f6"/>
<rect x="416" y="576" width="10" height="7" fill="#f5f6f7"/>
<rect x="305" y="569" width="172" height="7" fill="#f7f7f7"/>
<rect x="305" y="569" width="10" height="7" fill="#e8896d"/>
<rect x="315" y="569" width="10" height="7" fill="#f4a885"/>
<rect x="325" y="569" width="10" height="7" fill="#f8bda1"/>
<rect x="335" y="569" width="11" height="7" fill="#fae8dd"/>
<rect x="346" y="569" width="10" height="7" fill="#ecf2f5"/>
<rect x="356" y="569" width="10" height="7" fill="#dceaf2"/>
<rect x="366" y="569" width="10" height="7" fill="#e8f0f4"/>
<rect x="376" y="569" width="10" height="7" fill="#ecf2f5"/>
<rect x="386" y="569" width="10" height="7" fill="#eff3f6"/>
<rect x="396" y="569" width="10" height="7" fill="#f2f5f6"/>
<rect x="406" y="569" width="10" height="7" fill="#f4f5f6"/>
<rect x="416" y="569" width="10" height="7" fill="#f5f6f7"/>
<rect x="315" y="561" width="162" height="8" fill="#f7f7f7"/>
<rect x="315" y="561" width="10" height="8" fill="#ee9777"/>
<rect x="325" y="561" width="10" height="8" fill="#f4a582"/>
<rect x="335" y="561" width="11" height="8" fill="#fcdfce"/>
<rect x="346" y="561" width="10" height="8" fill="#eff3f6"/>
<rect x="356" y="561" width="10" height="8" fill="#d1e5f0"/>
<rect x="366" y="561" width="10" height="8" fill="#e6eff4"/>
<rect x="376" y="561" width="10" height="8" fill="#ecf2f5"/>
<rect x="386" y="561" width="10" height="8" fill="#eef2f5"/>
<rect x="396" y="561" width="10" height="8" fill="#f1f4f6"/>
<rect x="406" y="561" width="10" height="8" fill="#f3f5f6"/>
<rect x="416" y="561" width="10" height="8" fill="#f4f6f6"/>
<rect x="426" y="561" width="11" height="8" fill="#f5f6f7"/>
<rect x="305" y="554" width="172" height="7" fill="#f7f7f7"/>
<rect x="305" y="554" width="10" height="7" fill="#faeae1"/>
<rect x="315" y="554" width="10" height="7" fill="#ee9777"/>
<rect x="325" y="554" width="10" height="7" fill="#f7b89a"/>
<rect x="335" y="554" width="11" height="7" fill="#fcdfce"/>
<rect x="356" y="554" width="10" height="7" fill="#d5e7f1"/>
<rect x="366" y="554" width="10" height="7" fill="#e6eff4"/>
<rect x="376" y="554" width="10" height="7" fill="#ecf2f5"/>
<rect x="386" y="554" width="10" height="7" fill="#eff3f6"/>
<rect x="396" y="554" width="10" height="7" fill="#f2f5f6"/>
<rect x="406" y="554" width="10" height="7" fill="#f4f5f6"/>
<rect x="416" y="554" width="10" height="7" fill="#f5f6f7"/>
<rect x="315" y="547" width="162" height="7" fill="#f7f7f7"/>
<rect x="315" y="547" width="10" height="7" fill="#f8c0a4"/>
<rect x="325" y="547" width="10" height="7" fill="#f2a27f"/>
<rect x="335" y="547" width="11" height="7" fill="#fcdfce"/>
<rect x="346" y="547" width="10" height="7" fill="#f7f6f5"/>
<rect x="356" y="547" width="10" height="7" fill="#d5e7f1"/>
<rect x="366" y="547" width="10" height="7" fill="#e4eef4"/>
<rect x="376" y="547" width="10" height="7" fill="#ecf2f5"/>
<rect x="386" y="547" width="10" height="7" fill="#eff3f6"/>
<rect x="396" y="547" width="10" height="7" fill="#f2f5f6"/>
<rect x="406" y="547" width="10" height="7" fill="#f4f5f6"/>
<rect x="416" y="547" width="10" height="7" fill="#f5f6f7"/>
<rect x="315" y="539" width="162" height="8" fill="#f7f7f7"/>
<rect x="315" y="539" width="10" height="8" fill="#f8c0a4"/>
<rect x="325" y="539" width="10" height="8" fill="#f4a582"/>
<rect x="335" y="539" width="11" height="8" fill="#fcdfce"/>
<rect x="346" y="539" width="10" height="8" fill="#f8f0eb"/>
<rect x="356" y="539" width="10" height="8" fill="#d3e6f0"/>
<rect x="366" y="539" width="10" height="8" fill="#e4eef4"/>
<rect x="376" y="539" width="10" height="8" fill="#ecf2f5"/>
<rect x="386" y="539" width="10" height="8" fill="#eef2f5"/>
<rect x="396" y="539" width="10" height="8" fill="#f1f4f6"/>
<rect x="406" y="539" width="10" height="8" fill="#f3f5f6"/>
<rect x="416" y="539" width="10" height="8" fill="#f4f6f6"/>
<rect x="426" y="539" width="11" height="8" fill="#f5f6f7"/>
<rect x="315" y="532" width="162" height="7" fill="#f7f7f7"/>
<rect x="315" y="532" width="10" height="7" fill="#f8c0a4"/>
<rect x="325" y="532" width="10" height="7" fill="#f4a582"/>
<rect x="335" y="532" width="11" height="7" fill="#fcdfce"/>
<rect x="346" y="532" width="10" height="7" fill="#f8f0eb"/>
<rect x="356" y="532" width="10" height="7" fill="#d3e6f0"/>
<rect x="366" y="532" width="10" height="7" fill="#e4eef4"/>
<rect x="376" y="532" width="10" height="7" fill="#ecf2f5"/>
<rect x="386" y="532" width="10" height="7" fill="#eef2f5"/>
<rect x="396" y="532" width="10" height="7" fill="#f1f4f6"/>
<rect x="406" y="532" width="10" height="7" fill="#f3f5f6"/>
<rect x="416" y="532" width="10" height="7" fill="#f4f6f6"/>
<rect x="426" y="532" width="11" height="7" fill="#f5f6f7"/>
<rect x="315" y="524" width="172" height="8" fill="#f7f7f7"/>
<rect x="315" y="524" width="10" height="8" fill="#f8c0a4"/>
<rect x="325" y="524" width="10" height="8" fill="#f4a582"/>
<rect x="335" y="524" width="11" height="8" fill="#fcdfce"/>
<rect x="346" y="524" width="10" height="8" fill="#f8f0eb"/>
<rect x="356" y="524" width="10" height="8" fill="#d3e6f0"/>
<rect x="366" y="524" width="10" height="8" fill="#e4eef4"/>
<rect x="376" y="524" width="10" height="8" fill="#ecf2f5"/>
<rect x="386" y="524" width="10" height="8" fill="#eef2f5"/>
<rect x="396" y="524" width="10" height="8" fill="#f1f4f6"/>
<rect x="406" y="524" width="10" height="8" fill="#f3f5f6"/>
<rect x="416" y="524" width="10" height="8" fill="#f4f6f6"/>
<rect x="426" y="524" width="11" height="8" fill="#f5f6f7"/>
<rect x="315" y="517" width="172" height="7" fill="#f7f7f7"/>
<rect x="315" y="517" width="10" height="7" fill="#f8c0a4"/>
<rect x="325" y="517" width="10" height="7" fill="#f4a582"/>
<rect x="335" y="517" width="11" height="7" fill="#fcdfce"/>
<rect x="346" y="517" width="10" height="7" fill="#f8f0eb"/>
<rect x="356" y="517" width="10" height="7" fill="#c1ddec"/>
<rect x="366" y="517" width="10" height="7" fill="#e0ecf3"/>
<rect x="376" y="517" width="10" height="7" fill="#ecf2f5"/>
<rect x="386" y="517" width="10" height="7" fill="#eef2f5"/>
<rect x="396" y="517" width="10" height="7" fill="#f1f4f6"/>
<rect x="406" y="517" width="10" height="7" fill="#f3f5f6"/>
<rect x="416" y="517" width="10" height="7" fill="#f4f6f6"/>
<rect x="426" y="517" width="11" height="7" fill="#f5f6f7"/>
<rect x="315" y="510" width="172" height="7" fill="#f7f7f7"/>
<rect x="315" y="510" width="10" height="7" fill="#f8c0a4"/>
<rect x="325" y="510" width="10" height="7" fill="#f4a582"/>
<rect x="335" y="510" width="11" height="7" fill="#fcdfce"/>
<rect x="346" y="510" width="10" height="7" fill="#f8f0eb"/>
<rect x="356" y="510" width="10" height="7" fill="#d3e6f0"/>
<rect x="366" y="510" width="10" height="7" fill="#e0ecf3"/>
<rect x="376" y="510" width="10" height="7" fill="#e6eff4"/>
<rect x="386" y="510" width="10" height="7" fill="#eef2f5"/>
<rect x="396" y="510" width="10" height="7" fill="#f1f4f6"/>
<rect x="406" y="510" width="10" height="7" fill="#f3f5f6"/>
<rect x="416" y="510" width="10" height="7" fill="#f4f6f6"/>
<rect x="426" y="510" width="11" height="7" fill="#f5f6f7"/>
<rect x="315" y="502" width="162" height="8" fill="#f7f7f7"/>
<rect x="315" y="502" width="10" height="8" fill="#f8c0a4"/>
<rect x="325" y="502" width="10" height="8" fill="#f4a582"/>
<rect x="335" y="502" width="11" height="8" fill="#fcdfce"/>
<rect x="346" y="502" width="10" height="8" fill="#f8f0eb"/>
<rect x="356" y="502" width="10" height="8" fill="#d3e6f0"/>
<rect x="366" y="502" width="10" height="8" fill="#e0ecf3"/>
<rect x="376" y="502" width="10" height="8" fill="#e6eff4"/>
<rect x="386" y="502" width="10" height="8" fill="#eef2f5"/>
<rect x="396" y="502" width="10" height="8" fill="#f1f4f6"/>
<rect x="406" y="502" width="10" height="8" fill="#f3f5f6"/>
<rect x="416" y="502" width="10" height="8" fill="#f4f6f6"/>
<rect x="426" y="502" width="11" height="8" fill="#f5f6f7"/>
<rect x="315" y="495" width="172" height="7" fill="#f7f7f7"/>
<rect x="315" y="495" width="10" height="7" fill="#f4a582"/>
<rect x="325" y="495" width="10" height="7" fill="#f8c0a4"/>
<rect x="335" y="495" width="11" height="7" fill="#fddbc7"/>
<rect x="346" y="495" width="10" height="7" fill="#f8f0eb"/>
<rect x="356" y="495" width="10" height="7" fill="#c1ddec"/>
<rect x="366" y="495" width="10" height="7" fill="#eef2f5"/>
<rect x="376" y="495" width="10" height="7" fill="#e6eff4"/>
<rect x="386" y="495" width="10" height="7" fill="#eef2f5"/>
<rect x="396" y="495" width="10" height="7" fill="#f1f4f6"/>
<rect x="406" y="495" width="10" height="7" fill="#f3f5f6"/>
<rect x="416" y="495" width="10" height="7" fill="#f4f6f6"/>
<rect x="426" y="495" width="11" height="7" fill="#f5f6f7"/>
<rect x="315" y="488" width="162" height="7" fill="#f7f7f7"/>
<rect x="315" y="488" width="10" height="7" fill="#f19e7d"/>
<rect x="325" y="488" width="10" height="7" fill="#fddbc7"/>
<rect x="335" y="488" width="11" height="7" fill="#facbb2"/>
<rect x="346" y="488" width="10" height="7" fill="#f9ece4"/>
<rect x="356" y="488" width="10" height="7" fill="#f3f5f6"/>
<rect x="366" y="488" width="10" height="7" fill="#e4eef4"/>
<rect x="376" y="488" width="10" height="7" fill="#ecf2f5"/>
<rect x="386" y="488" width="10" height="7" fill="#eef2f5"/>
<rect x="396" y="488" width="10" height="7" fill="#eef2f5"/>
<rect x="406" y="488" width="10" height="7" fill="#eff3f6"/>
<rect x="416" y="488" width="10" height="7" fill="#f1f4f6"/>
<rect x="426" y="488" width="11" height="7" fill="#f3f5f6"/>
<rect x="437" y="488" width="10" height="7" fill="#f5f6f7"/>
<rect x="447" y="488" width="10" height="7" fill="#f5f6f7"/>
</g>
<g shape-rendering="crispEdges">
<rect x="806" y="849" width="61" height="7" fill="#f7f7f7"/>
<rect x="806" y="849" width="11" height="7" fill="#f8f4f2"/>
<rect x="817" y="849" width="10" height="7" fill="#d3e6f0"/>
<rect x="827" y="849" width="10" height="7" fill="#dceaf2"/>
<rect x="837" y="849" width="10" height="7" fill="#ecf2f5"/>
<rect x="796" y="841" width="71" height="8" fill="#f7f7f7"/>
<rect x="796" y="841" width="10" height="8" fill="#fbd0b9"/>
<rect x="806" y="841" width="11" height="8" fill="#f8f4f2"/>
<rect x="817" y="841" width="10" height="8" fill="#d5e7f1"/>
<rect x="827" y="841" width="10" height="8" fill="#daeaf2"/>
<rect x="837" y="841" width="10" height="8" fill="#ecf2f5"/>
<rect x="806" y="834" width="71" height="7" fill="#f7f7f7"/>
<rect x="806" y="834" width="11" height="7" fill="#faeae1"/>
<rect x="817" y="834" width="10" height="7" fill="#dceaf2"/>
<rect x="827" y="834" width="10" height="7" fill="#d1e5f0"/>
<rect x="837" y="834" width="10" height="7" fill="#e6eff4"/>
<rect x="847" y="834" width="10" height="7" fill="#f1f4f6"/>
<rect x="806" y="827" width="71" height="7" fill="#f7f7f7"/>
<rect x="806" y="827" width="11" height="7" fill="#fce2d3"/>
<rect x="817" y="827" width="10" height="7" fill="#eff3f6"/>
<rect x="827" y="827" width="10" height="7" fill="#d1e5f0"/>
<rect x="837" y="827" width="10" height="7" fill="#e0ecf3"/>
<rect x="847" y="827" width="10" height="7" fill="#eff3f6"/>
<rect x="817" y="819" width="70" height="8" fill="#f7f7f7"/>
<rect x="817" y="819" width="10" height="8" fill="#f7f6f5"/>
<rect x="827" y="819" width="10" height="8" fill="#d1e5f0"/>
<rect x="837" y="819" width="10" height="8" fill="#daeaf2"/>
<rect x="847" y="819" width="10" height="8" fill="#eef2f5"/>
<rect x="857" y="819" width="10" height="8" fill="#f5f6f7"/>
<rect x="817" y="812" width="80" height="7" fill="#f7f7f7"/>
<rect x="817" y="812" width="10" height="7" fill="#f8f3f0"/>
<rect x="827" y="812" width="10" height="7" fill="#e2edf3"/>
<rect x="837" y="812" width="10" height="7" fill="#d5e7f1"/>
<rect x="847" y="812" width="10" height="7" fill="#e8f0f4"/>
<rect x="857" y="812" width="10" height="7" fill="#f3f5f6"/>
<rect x="867" y="812" width="10" height="7" fill="#f4f6f7"/>
<rect x="877" y="812" width="10" height="7" fill="#f5f6f7"/>
<rect x="827" y="805" width="70" height="7" fill="#f7f7f7"/>
<rect x="837" y="805" width="10" height="7" fill="#dceaf2"/>
<rect x="847" y="805" width="10" height="7" fill="#e2edf3"/>
<rect x="857" y="805" width="10" height="7" fill="#eef2f5"/>
<rect x="867" y="805" width="10" height="7" fill="#f5f6f7"/>
<rect x="817" y="797" width="80" height="8" fill="#f7f7f7"/>
<rect x="817" y="797" width="10" height="8" fill="#fbe5d8"/>
<rect x="827" y="797" width="10" height="8" fill="#f9efe9"/>
<rect x="837" y="797" width="10" height="8" fill="#ecf2f5"/>
<rect x="847" y="797" width="10" height="8" fill="#e0ecf3"/>
<rect x="857" y="797" width="10" height="8" fill="#ecf2f5"/>
<rect x="867" y="797" width="10" height="8" fill="#f3f5f6"/>
<rect x="877" y="797" width="10" height="8" fill="#f4f6f7"/>
<rect x="887" y="797" width="10" height="8" fill="#f5f6f7"/>
<rect x="827" y="790" width="81" height="7" fill="#f7f7f7"/>
<rect x="827" y="790" width="10" height="7" fill="#faeae1"/>
<rect x="837" y="790" width="10" height="7" fill="#f8f4f2"/>
<rect x="847" y="790" width="10" height="7" fill="#e0ecf3"/>
<rect x="857" y="790" width="10" height="7" fill="#e4eef4"/>
<rect x="867" y="790" width="10" height="7" fill="#eef2f5"/>
<rect x="877" y="790" width="10" height="7" fill="#f5f6f7"/>
<rect x="827" y="782" width="81" height="8" fill="#f7f7f7"/>
<rect x="837" y="782" width="10" height="8" fill="#f8f3f0"/>
<rect x="847" y="782" width="10" height="8" fill="#f1f4f6"/>
<rect x="857" y="782" width="10" height="8" fill="#e4eef4"/>
<rect x="867" y="782" width="10" height="8" fill="#ecf2f5"/>
<rect x="877" y="782" width="10" height="8" fill="#f3f5f6"/>
<rect x="887" y="782" width="10" height="8" fill="#f4f6f7"/>
<rect x="897" y="782" width="11" height="8" fill="#f5f6f7"/>
<rect x="827" y="775" width="91" height="7" fill="#f7f7f7"/>
<rect x="827" y="775" width="10" height="7" fill="#f9efe9"/>
<rect x="837" y="775" width="10" height="7" fill="#f9efe9"/>
<rect x="857" y="775" width="10" height="7" fill="#e4eef4"/>
<rect x="867" y="775" width="10" height="7" fill="#e8f0f4"/>
<rect x="877" y="775" width="10" height="7" fill="#eff3f6"/>
<rect x="887" y="775" width="10" height="7" fill="#f2f5f6"/>
<rect x="897" y="775" width="11" height="7" fill="#f4f5f6"/>
<rect x="908" y="775" width="10" height="7" fill="#f5f6f7"/>
<rect x="847" y="768" width="81" height="7" fill="#f7f7f7"/>
<rect x="847" y="768" width="10" height="7" fill="#f7f6f5"/>
<rect x="857" y="768" width="10" height="7" fill="#eef2f5"/>
<rect x="867" y="768" width="10" height="7" fill="#e4eef4"/>
<rect x="877" y="768" width="10" height="7" fill="#eef2f5"/>
<rect x="887" y="768" width="10" height="7" fill="#f5f6f7"/>
<rect x="847" y="760" width="81" height="8" fill="#f7f7f7"/>
<rect x="847" y="760" width="10" height="8" fill="#f8f1ed"/>
<rect x="867" y="760" width="10" height="8" fill="#e4eef4"/>
<rect x="877" y="760" width="10" height="8" fill="#ecf2f5"/>
<rect x="887" y="760" width="10" height="8" fill="#f3f5f6"/>
<rect x="897" y="760" width="11" height="8" fill="#f4f6f7"/>
<rect x="908" y="760" width="10" height="8" fill="#f5f6f7"/>
<rect x="847" y="753" width="81" height="7" fill="#f7f7f7"/>
<rect x="847" y="753" width="10" height="7" fill="#faeae1"/>
<rect x="857" y="753" width="10" height="7" fill="#f7f6f5"/>
<rect x="867" y="753" width="10" height="7" fill="#e6eff4"/>
<rect x="877" y="753" width="10" height="7" fill="#e4eef4"/>
<rect x="887" y="753" width="10" height="7" fill="#eff3f6"/>
<rect x="897" y="753" width="11" height="7" fill="#f5f6f7"/>
<rect x="847" y="746" width="91" height="7" fill="#f7f7f7"/>
<rect x="847" y="746" width="10" height="7" fill="#faeae1"/>
<rect x="857" y="746" width="10" height="7" fill="#f7f6f5"/>
<rect x="867" y="746" width="10" height="7" fill="#ecf2f5"/>
<rect x="877" y="746" width="10" height="7" fill="#e4eef4"/>
<rect x="887" y="746" width="10" height="7" fill="#eef2f5"/>
<rect x="897" y="746" width="11" height="7" fill="#f3f5f6"/>
<rect x="908" y="746" width="10" height="7" fill="#f4f6f7"/>
<rect x="918" y="746" width="10" height="7" fill="#f5f6f7"/>
<rect x="857" y="738" width="81" height="8" fill="#f7f7f7"/>
<rect x="857" y="738" width="10" height="8" fill="#f9efe9"/>
<rect x="877" y="738" width="10" height="8" fill="#e4eef4"/>
<rect x="887" y="738" width="10" height="8" fill="#e8f0f4"/>
<rect x="897" y="738" width="11" height="8" fill="#eff3f6"/>
<rect x="908" y="738" width="10" height="8" fill="#f5f6f7"/>
<rect x="847" y="731" width="101" height="7" fill="#f7f7f7"/>
<rect x="847" y="731" width="10" height="7" fill="#f7b89a"/>
<rect x="857" y="731" width="10" height="7" fill="#f9efe9"/>
<rect x="877" y="731" width="10" height="7" fill="#e8f0f4"/>
<rect x="887" y="731" width="10" height="7" fill="#e4eef4"/>
<rect x="897" y="731" width="11" height="7" fill="#eff3f6"/>
<rect x="908" y="731" width="10" height="7" fill="#f3f5f6"/>
<rect x="918" y="731" width="10" height="7" fill="#f4f6f7"/>
<rect x="928" y="731" width="10" height="7" fill="#f5f6f7"/>
<rect x="857" y="724" width="91" height="7" fill="#f7f7f7"/>
<rect x="857" y="724" width="10" height="7" fill="#fbe6da"/>
<rect x="867" y="724" width="10" height="7" fill="#f8f3f0"/>
<rect x="877" y="724" width="10" height="7" fill="#eef2f5"/>
<rect x="887" y="724" width="10" height="7" fill="#e2edf3"/>
<rect x="897" y="724" width="11" height="7" fill="#eef2f5"/>
<rect x="908" y="724" width="10" height="7" fill="#f3f5f6"/>
<rect x="918" y="724" width="10" height="7" fill="#f4f6f7"/>
<rect x="928" y="724" width="10" height="7" fill="#f5f6f7"/>
<rect x="857" y="716" width="101" height="8" fill="#f7f7f7"/>
<rect x="857" y="716" width="10" height="8" fill="#fbe3d5"/>
<rect x="867" y="716" width="10" height="8" fill="#f8f0eb"/>
<rect x="877" y="716" width="10" height="8" fill="#f1f4f6"/>
<rect x="887" y="716" width="10" height="8" fill="#e2edf3"/>
<rect x="897" y="716" width="11" height="8" fill="#eaf1f5"/>
<rect x="908" y="716" width="10" height="8" fill="#eef2f5"/>
<rect x="918" y="716" width="10" height="8" fill="#f3f5f6"/>
<rect x="928" y="716" width="10" height="8" fill="#f4f6f7"/>
<rect x="938" y="716" width="10" height="8" fill="#f5f6f7"/>
<rect x="867" y="709" width="91" height="7" fill="#f7f7f7"/>
<rect x="867" y="709" width="10" height="7" fill="#f9ede6"/>
<rect x="887" y="709" width="10" height="7" fill="#e8f0f4"/>
<rect x="897" y="709" width="11" height="7" fill="#e8f0f4"/>
<rect x="908" y="709" width="10" height="7" fill="#ecf2f5"/>
<rect x="918" y="709" width="10" height="7" fill="#f3f5f6"/>
<rect x="928" y="709" width="10" height="7" fill="#f4f6f7"/>
<rect x="938" y="709" width="10" height="7" fill="#f5f6f7"/>
<rect x="867" y="701" width="91" height="8" fill="#f7f7f7"/>
<rect x="867" y="701" width="10" height="8" fill="#f9ece4"/>
<rect x="877" y="701" width="10" height="8" fill="#f8f1ed"/>
<rect x="887" y="701" width="10" height="8" fill="#ecf2f5"/>
<rect x="897" y="701" width="11" height="8" fill="#e2edf3"/>
<rect x="908" y="701" width="10" height="8" fill="#ecf2f5"/>
<rect x="918" y="701" width="10" height="8" fill="#f1f4f6"/>
<rect x="928" y="701" width="10" height="8" fill="#f5f6f7"/>
<rect x="867" y="694" width="101" height="7" fill="#f7f7f7"/>
<rect x="867" y="694" width="10" height="7" fill="#fbe3d5"/>
<rect x="877" y="694" width="10" height="7" fill="#f8f1ed"/>
<rect x="887" y="694" width="10" height="7" fill="#f3f5f6"/>
<rect x="897" y="694" width="11" height="7" fill="#e2edf3"/>
<rect x="908" y="694" width="10" height="7" fill="#e8f0f4"/>
<rect x="918" y="694" width="10" height="7" fill="#eef2f5"/>
<rect x="928" y="694" width="10" height="7" fill="#f1f4f6"/>
<rect x="938" y="694" width="10" height="7" fill="#f3f5f6"/>
<rect x="948" y="694" width="10" height="7" fill="#f5f6f7"/>
<rect x="958" y="694" width="10" height="7" fill="#f5f6f7"/>
<rect x="877" y="687" width="91" height="7" fill="#f7f7f7"/>
<rect x="877" y="687" width="10" height="7" fill="#faeae1"/>
<rect x="897" y="687" width="11" height="7" fill="#e8f0f4"/>
<rect x="908" y="687" width="10" height="7" fill="#e4eef4"/>
<rect x="918" y="687" width="10" height="7" fill="#eef2f5"/>
<rect x="928" y="687" width="10" height="7" fill="#f1f4f6"/>
<rect x="938" y="687" width="10" height="7" fill="#f5f6f7"/>
<rect x="867" y="679" width="111" height="8" fill="#f7f7f7"/>
<rect x="867" y="679" width="10" height="8" fill="#fbe3d5"/>
<rect x="877" y="679" width="10" height="8" fill="#faeae1"/>
<rect x="887" y="679" width="10" height="8" fill="#f7f6f5"/>
<rect x="897" y="679" width="11" height="8" fill="#eaf1f5"/>
<rect x="908" y="679" width="10" height="8" fill="#e4eef4"/>
<rect x="918" y="679" width="10" height="8" fill="#ecf2f5"/>
<rect x="928" y="679" width="10" height="8" fill="#f1f4f6"/>
<rect x="938" y="679" width="10" height="8" fill="#f3f5f6"/>
<rect x="948" y="679" width="10" height="8" fill="#f4f6f7"/>
<rect x="958" y="679" width="10" height="8" fill="#f5f6f7"/>
<rect x="867" y="672" width="111" height="7" fill="#f7f7f7"/>
<rect x="867" y="672" width="10" height="7" fill="#fce2d3"/>
<rect x="877" y="672" width="10" height="7" fill="#faeae1"/>
<rect x="887" y="672" width="10" height="7" fill="#f8f3f0"/>
<rect x="897" y="672" width="11" height="7" fill="#ecf2f5"/>
<rect x="908" y="672" width="10" height="7" fill="#e4eef4"/>
<rect x="918" y="672" width="10" height="7" fill="#eaf1f5"/>
<rect x="928" y="672" width="10" height="7" fill="#eff3f6"/>
<rect x="938" y="672" width="10" height="7" fill="#f3f5f6"/>
<rect x="948" y="672" width="10" height="7" fill="#f4f6f7"/>
<rect x="958" y="672" width="10" height="7" fill="#f5f6f7"/>
<rect x="877" y="665" width="101" height="7" fill="#f7f7f7"/>
<rect x="877" y="665" width="10" height="7" fill="#fddbc7"/>
<rect x="887" y="665" width="10" height="7" fill="#f9ede6"/>
<rect x="908" y="665" width="10" height="7" fill="#e4eef4"/>
<rect x="918" y="665" width="10" height="7" fill="#e8f0f4"/>
<rect x="928" y="665" width="10" height="7" fill="#eef2f5"/>
<rect x="938" y="665" width="10" height="7" fill="#f3f5f6"/>
<rect x="948" y="665" width="10" height="7" fill="#f4f6f7"/>
<rect x="958" y="665" width="10" height="7" fill="#f5f6f7"/>
<rect x="887" y="657" width="101" height="8" fill="#f7f7f7"/>
<rect x="887" y="657" width="10" height="8" fill="#f9ece4"/>
<rect x="897" y="657" width="11" height="8" fill="#f7f6f5"/>
<rect x="908" y="657" width="10" height="8" fill="#e6eff4"/>
<rect x="918" y="657" width="10" height="8" fill="#e4eef4"/>
<rect x="928" y="657" width="10" height="8" fill="#eef2f5"/>
<rect x="938" y="657" width="10" height="8" fill="#f3f5f6"/>
<rect x="948" y="657" width="10" height="8" fill="#f4f6f7"/>
<rect x="958" y="657" width="10" height="8" fill="#f5f6f7"/>
<rect x="887" y="650" width="101" height="7" fill="#f7f7f7"/>
<rect x="887" y="650" width="10" height="7" fill="#f9ece4"/>
<rect x="897" y="650" width="11" height="7" fill="#f8f3f0"/>
<rect x="908" y="650" width="10" height="7" fill="#eaf1f5"/>
<rect x="918" y="650" width="10" height="7" fill="#e2edf3"/>
<rect x="928" y="650" width="10" height="7" fill="#ecf2f5"/>
<rect x="938" y="650" width="10" height="7" fill="#f1f4f6"/>
<rect x="948" y="650" width="10" height="7" fill="#f5f6f7"/>
<rect x="887" y="642" width="101" height="8" fill="#f7f7f7"/>
<rect x="887" y="642" width="10" height="8" fill="#faeae1"/>
<rect x="897" y="642" width="11" height="8" fill="#f8f3f0"/>
<rect x="908" y="642" width="10" height="8" fill="#eef2f5"/>
<rect x="918" y="642" width="10" height="8" fill="#e2edf3"/>
<rect x="928" y="642" width="10" height="8" fill="#e8f0f4"/>
<rect x="938" y="642" width="10" height="8" fill="#eff3f6"/>
<rect x="948" y="642" width="10" height="8" fill="#f5f6f7"/>
<rect x="887" y="635" width="112" height="7" fill="#f7f7f7"/>
<rect x="887" y="635" width="10" height="7" fill="#fcd6c0"/>
<rect x="897" y="635" width="11" height="7" fill="#f9ede6"/>
<rect x="918" y="635" width="10" height="7" fill="#e4eef4"/>
<rect x="928" y="635" width="10" height="7" fill="#e8f0f4"/>
<rect x="938" y="635" width="10" height="7" fill="#eef2f5"/>
<rect x="948" y="635" width="10" height="7" fill="#f3f5f6"/>
<rect x="958" y="635" width="10" height="7" fill="#f4f6f7"/>
<rect x="968" y="635" width="10" height="7" fill="#f5f6f7"/>
<rect x="887" y="628" width="112" height="7" fill="#f7f7f7"/>
<rect x="887" y="628" width="10" height="7" fill="#fddbc7"/>
<rect x="897" y="628" width="11" height="7" fill="#f9ede6"/>
<rect x="908" y="628" width="10" height="7" fill="#eff3f6"/>
<rect x="918" y="628" width="10" height="7" fill="#e6eff4"/>
<rect x="928" y="628" width="10" height="7" fill="#e4eef4"/>
<rect x="938" y="628" width="10" height="7" fill="#ecf2f5"/>
<rect x="948" y="628" width="10" height="7" fill="#f1f4f6"/>
<rect x="958" y="628" width="10" height="7" fill="#f5f6f7"/>
<rect x="897" y="620" width="102" height="8" fill="#f7f7f7"/>
<rect x="897" y="620" width="11" height="8" fill="#f9ede6"/>
<rect x="908" y="620" width="10" height="8" fill="#f8f3f0"/>
<rect x="918" y="620" width="10" height="8" fill="#e8f0f4"/>
<rect x="928" y="620" width="10" height="8" fill="#e4eef4"/>
<rect x="938" y="620" width="10" height="8" fill="#eaf1f5"/>
<rect x="948" y="620" width="10" height="8" fill="#eff3f6"/>
<rect x="958" y="620" width="10" height="8" fill="#f3f5f6"/>
<rect x="968" y="620" width="10" height="8" fill="#f4f6f7"/>
<rect x="978" y="620" width="10" height="8" fill="#f5f6f7"/>
<rect x="897" y="613" width="102" height="7" fill="#f7f7f7"/>
<rect x="897" y="613" width="11" height="7" fill="#fbe3d5"/>
<rect x="908" y="613" width="10" height="7" fill="#f8f3f0"/>
<rect x="918" y="613" width="10" height="7" fill="#ecf2f5"/>
<rect x="928" y="613" width="10" height="7" fill="#e2edf3"/>
<rect x="938" y="613" width="10" height="7" fill="#e6eff4"/>
<rect x="948" y="613" width="10" height="7" fill="#eef2f5"/>
<rect x="958" y="613" width="10" height="7" fill="#f3f5f6"/>
<rect x="968" y="613" width="10" height="7" fill="#f4f6f7"/>
<rect x="978" y="613" width="10" height="7" fill="#f5f6f7"/>
<rect x="897" y="606" width="112" height="7" fill="#f7f7f7"/>
<rect x="897" y="606" width="11" height="7" fill="#f8f4f2"/>
<rect x="908" y="606" width="10" height="7" fill="#f9efe9"/>
<rect x="918" y="606" width="10" height="7" fill="#e8f0f4"/>
<rect x="928" y="606" width="10" height="7" fill="#e4eef4"/>
<rect x="938" y="606" width="10" height="7" fill="#e6eff4"/>
<rect x="948" y="606" width="10" height="7" fill="#ecf2f5"/>
<rect x="958" y="606" width="10" height="7" fill="#f1f4f6"/>
<rect x="968" y="606" width="10" height="7" fill="#f3f5f6"/>
<rect x="978" y="606" width="10" height="7" fill="#f5f6f7"/>
<rect x="988" y="606" width="11" height="7" fill="#f5f6f7"/>
<rect x="897" y="598" width="112" height="8" fill="#f7f7f7"/>
<rect x="897" y="598" width="11" height="8" fill="#fcdecc"/>
<rect x="908" y="598" width="10" height="8" fill="#f9efe9"/>
<rect x="918" y="598" width="10" height="8" fill="#f3f5f6"/>
<rect x="928" y="598" width="10" height="8" fill="#e2edf3"/>
<rect x="938" y="598" width="10" height="8" fill="#e4eef4"/>
<rect x="948" y="598" width="10" height="8" fill="#ecf2f5"/>
<rect x="958" y="598" width="10" height="8" fill="#f1f4f6"/>
<rect x="968" y="598" width="10" height="8" fill="#f3f5f6"/>
<rect x="978" y="598" width="10" height="8" fill="#f5f6f7"/>
<rect x="988" y="598" width="11" height="8" fill="#f5f6f7"/>
<rect x="897" y="591" width="112" height="7" fill="#f7f7f7"/>
<rect x="897" y="591" width="11" height="7" fill="#fcdecc"/>
<rect x="908" y="591" width="10" height="7" fill="#f8f1ed"/>
<rect x="928" y="591" width="10" height="7" fill="#e4eef4"/>
<rect x="938" y="591" width="10" height="7" fill="#e6eff4"/>
<rect x="948" y="591" width="10" height="7" fill="#eaf1f5"/>
<rect x="958" y="591" width="10" height="7" fill="#f1f4f6"/>
<rect x="968" y="591" width="10" height="7" fill="#f5f6f7"/>
<rect x="908" y="583" width="101" height="8" fill="#f7f7f7"/>
<rect x="908" y="583" width="10" height="8" fill="#f9ece4"/>
<rect x="928" y="583" width="10" height="8" fill="#e8f0f4"/>
<rect x="938" y="583" width="10" height="8" fill="#e2edf3"/>
<rect x="948" y="583" width="10" height="8" fill="#eaf1f5"/>
<rect x="958" y="583" width="10" height="8" fill="#eef2f5"/>
<rect x="968" y="583" width="10" height="8" fill="#f1f4f6"/>
<rect x="978" y="583" width="10" height="8" fill="#f3f5f6"/>
<rect x="988" y="583" width="11" height="8" fill="#f5f6f7"/>
<rect x="999" y="583" width="10" height="8" fill="#f5f6f7"/>
<rect x="908" y="576" width="111" height="7" fill="#f7f7f7"/>
<rect x="908" y="576" width="10" height="7" fill="#fbe3d5"/>
<rect x="918" y="576" width="10" height="7" fill="#f8f4f2"/>
<rect x="928" y="576" width="10" height="7" fill="#ecf2f5"/>
<rect x="938" y="576" width="10" height="7" fill="#e2edf3"/>
<rect x="948" y="576" width="10" height="7" fill="#e8f0f4"/>
<rect x="958" y="576" width="10" height="7" fill="#eef2f5"/>
<rect x="968" y="576" width="10" height="7" fill="#f1f4f6"/>
<rect x="978" y="576" width="10" height="7" fill="#f5f6f7"/>
<rect x="908" y="569" width="111" height="7" fill="#f7f7f7"/>
<rect x="908" y="569" width="10" height="7" fill="#faeae1"/>
<rect x="918" y="569" width="10" height="7" fill="#f7f6f5"/>
<rect x="928" y="569" width="10" height="7" fill="#ecf2f5"/>
<rect x="938" y="569" width="10" height="7" fill="#e4eef4"/>
<rect x="948" y="569" width="10" height="7" fill="#e8f0f4"/>
<rect x="958" y="569" width="10" height="7" fill="#eef2f5"/>
<rect x="968" y="569" width="10" height="7" fill="#f1f4f6"/>
<rect x="978" y="569" width="10" height="7" fill="#f5f6f7"/>
<rect x="908" y="561" width="111" height="8" fill="#f7f7f7"/>
<rect x="908" y="561" width="10" height="8" fill="#fcdecc"/>
<rect x="918" y="561" width="10" height="8" fill="#f8f1ed"/>
<rect x="928" y="561" width="10" height="8" fill="#eaf1f5"/>
<rect x="938" y="561" width="10" height="8" fill="#e2edf3"/>
<rect x="948" y="561" width="10" height="8" fill="#e8f0f4"/>
<rect x="958" y="561" width="10" height="8" fill="#eef2f5"/>
<rect x="968" y="561" width="10" height="8" fill="#f1f4f6"/>
<rect x="978" y="561" width="10" height="8" fill="#f5f6f7"/>
<rect x="908" y="554" width="111" height="7" fill="#f7f7f7"/>
<rect x="908" y="554" width="10" height="7" fill="#f9ece4"/>
<rect x="918" y="554" width="10" height="7" fill="#f9efe9"/>
<rect x="928" y="554" width="10" height="7" fill="#eff3f6"/>
<rect x="938" y="554" width="10" height="7" fill="#e2edf3"/>
<rect x="948" y="554" width="10" height="7" fill="#e8f0f4"/>
<rect x="958" y="554" width="10" height="7" fill="#eef2f5"/>
<rect x="968" y="554" width="10" height="7" fill="#f1f4f6"/>
<rect x="978" y="554" width="10" height="7" fill="#f3f5f6"/>
<rect x="988" y="554" width="11" height="7" fill="#f5f6f7"/>
<rect x="999" y="554" width="10" height="7" fill="#f5f6f7"/>
<rect x="918" y="547" width="101" height="7" fill="#f7f7f7"/>
<rect x="918" y="547" width="10" height="7" fill="#f9efe9"/>
<rect x="928" y="547" width="10" height="7" fill="#ecf2f5"/>
<rect x="938" y="547" width="10" height="7" fill="#e2edf3"/>
<rect x="948" y="547" width="10" height="7" fill="#e8f0f4"/>
<rect x="958" y="547" width="10" height="7" fill="#eef2f5"/>
<rect x="968" y="547" width="10" height="7" fill="#f1f4f6"/>
<rect x="978" y="547" width="10" height="7" fill="#f3f5f6"/>
<rect x="988" y="547" width="11" height="7" fill="#f5f6f7"/>
<rect x="999" y="547" width="10" height="7" fill="#f5f6f7"/>
<rect x="918" y="539" width="101" height="8" fill="#f7f7f7"/>
<rect x="918" y="539" width="10" height="8" fill="#f9efe9"/>
<rect x="928" y="539" width="10" height="8" fill="#f8f3f0"/>
<rect x="938" y="539" width="10" height="8" fill="#e4eef4"/>
<rect x="948" y="539" width="10" height="8" fill="#e2edf3"/>
<rect x="958" y="539" width="10" height="8" fill="#eaf1f5"/>
<rect x="968" y="539" width="10" height="8" fill="#f1f4f6"/>
<rect x="978" y="539" width="10" height="8" fill="#f3f5f6"/>
<rect x="988" y="539" width="11" height="8" fill="#f4f6f7"/>
<rect x="999" y="539" width="10" height="8" fill="#f5f6f7"/>
<rect x="918" y="532" width="101" height="7" fill="#f7f7f7"/>
<rect x="918" y="532" width="10" height="7" fill="#f9efe9"/>
<rect x="928" y="532" width="10" height="7" fill="#f8f3f0"/>
<rect x="938" y="532" width="10" height="7" fill="#e4eef4"/>
<rect x="948" y="532" width="10" height="7" fill="#e2edf3"/>
<rect x="958" y="532" width="10" height="7" fill="#eaf1f5"/>
<rect x="968" y="532" width="10" height="7" fill="#f1f4f6"/>
<rect x="978" y="532" width="10" height="7" fill="#f3f5f6"/>
<rect x="988" y="532" width="11" height="7" fill="#f4f6f7"/>
<rect x="999" y="532" width="10" height="7" fill="#f5f6f7"/>
<rect x="918" y="524" width="101" height="8" fill="#f7f7f7"/>
<rect x="918" y="524" width="10" height="8" fill="#f9efe9"/>
<rect x="928" y="524" width="10" height="8" fill="#f8f3f0"/>
<rect x="938" y="524" width="10" height="8" fill="#e4eef4"/>
<rect x="948" y="524" width="10" height="8" fill="#e2edf3"/>
<rect x="958" y="524" width="10" height="8" fill="#eaf1f5"/>
<rect x="968" y="524" width="10" height="8" fill="#f1f4f6"/>
<rect x="978" y="524" width="10" height="8" fill="#f3f5f6"/>
<rect x="988" y="524" width="11" height="8" fill="#f4f6f7"/>
<rect x="999" y="524" width="10" height="8" fill="#f5f6f7"/>
<rect x="918" y="517" width="101" height="7" fill="#f7f7f7"/>
<rect x="918" y="517" width="10" height="7" fill="#f9efe9"/>
<rect x="928" y="517" width="10" height="7" fill="#f8f3f0"/>
<rect x="938" y="517" width="10" height="7" fill="#e4eef4"/>
<rect x="948" y="517" width="10" height="7" fill="#e2edf3"/>
<rect x="958" y="517" width="10" height="7" fill="#eaf1f5"/>
<rect x="968" y="517" width="10" height="7" fill="#ecf2f5"/>
<rect x="978" y="517" width="10" height="7" fill="#f3f5f6"/>
<rect x="988" y="517" width="11" height="7" fill="#f4f6f7"/>
<rect x="999" y="517" width="10" height="7" fill="#f5f6f7"/>
<rect x="918" y="510" width="101" height="7" fill="#f7f7f7"/>
<rect x="918" y="510" width="10" height="7" fill="#f9efe9"/>
<rect x="928" y="510" width="10" height="7" fill="#f8f3f0"/>
<rect x="938" y="510" width="10" height="7" fill="#e4eef4"/>
<rect x="948" y="510" width="10" height="7" fill="#e2edf3"/>
<rect x="958" y="510" width="10" height="7" fill="#eaf1f5"/>
<rect x="968" y="510" width="10" height="7" fill="#f1f4f6"/>
<rect x="978" y="510" width="10" height="7" fill="#f3f5f6"/>
<rect x="988" y="510" width="11" height="7" fill="#f4f6f7"/>
<rect x="999" y="510" width="10" height="7" fill="#f5f6f7"/>
<rect x="928" y="502" width="91" height="8" fill="#f7f7f7"/>
<rect x="928" y="502" width="10" height="8" fill="#ecf2f5"/>
<rect x="938" y="502" width="10" height="8" fill="#e2edf3"/>
<rect x="948" y="502" width="10" height="8" fill="#e0ecf3"/>
<rect x="958" y="502" width="10" height="8" fill="#eaf1f5"/>
<rect x="968" y="502" width="10" height="8" fill="#f1f4f6"/>
<rect x="978" y="502" width="10" height="8" fill="#f3f5f6"/>
<rect x="988" y="502" width="11" height="8" fill="#f5f6f7"/>
<rect x="999" y="502" width="10" height="8" fill="#f5f6f7"/>
<rect x="928" y="495" width="91" height="7" fill="#f7f7f7"/>
<rect x="928" y="495" width="10" height="7" fill="#ecf2f5"/>
<rect x="938" y="495" width="10" height="7" fill="#e2edf3"/>
<rect x="948" y="495" width="10" height="7" fill="#e0ecf3"/>
<rect x="958" y="495" width="10" height="7" fill="#eaf1f5"/>
<rect x="968" y="495" width="10" height="7" fill="#f1f4f6"/>
<rect x="978" y="495" width="10" height="7" fill="#f3f5f6"/>
<rect x="988" y="495" width="11" height="7" fill="#f5f6f7"/>
<rect x="999" y="495" width="10" height="7" fill="#f5f6f7"/>
<rect x="938" y="488" width="61" height="7" fill="#f7f7f7"/>
<rect x="938" y="488" width="10" height="7" fill="#e4eef4"/>
<rect x="948" y="488" width="10" height="7" fill="#e4eef4"/>
<rect x="958" y="488" width="10" height="7" fill="#eaf1f5"/>
<rect x="968" y="488" width="10" height="7" fill="#ecf2f5"/>
<rect x="978" y="488" width="10" height="7" fill="#f1f4f6"/>
<rect x="988" y="488" width="11" height="7" fill="#f5f6f7"/>
</g>
<rect x="159.9" y="53.7" width="177.49999999999997" height="48.39999999999999" rx="8.5" ry="8.5" fill="#fff" stroke="#3c63e0" stroke-width="2.4"/>
<rect x="700.2" y="53.5" width="213.19999999999993" height="48.8" rx="8.5" ry="8.5" fill="#fff" stroke="#008000" stroke-width="2.4"/>
<rect x="160.0" y="496.7" width="191.10000000000002" height="48.50000000000006" rx="8.5" ry="8.5" fill="#fff" stroke="#00bfff" stroke-width="2.4"/>
<rect x="700.3" y="496.8" width="227.0" height="47.599999999999966" rx="8.5" ry="8.5" fill="#fff" stroke="#93ca2a" stroke-width="2.4"/>
<rect x="143.7" y="44.5" width="505.6" height="368.3" fill="none" stroke="#000" stroke-width="2"/>
<line x1="136.5" y1="44.5" x2="143.7" y2="44.5" stroke="#000" stroke-width="2"/>
<line x1="136.5" y1="105.88333333333333" x2="143.7" y2="105.88333333333333" stroke="#000" stroke-width="2"/>
<line x1="136.5" y1="167.26666666666665" x2="143.7" y2="167.26666666666665" stroke="#000" stroke-width="2"/>
<line x1="136.5" y1="228.65" x2="143.7" y2="228.65" stroke="#000" stroke-width="2"/>
<line x1="136.5" y1="290.0333333333333" x2="143.7" y2="290.0333333333333" stroke="#000" stroke-width="2"/>
<line x1="136.5" y1="351.4166666666667" x2="143.7" y2="351.4166666666667" stroke="#000" stroke-width="2"/>
<line x1="136.5" y1="412.8" x2="143.7" y2="412.8" stroke="#000" stroke-width="2"/>
<rect x="684.6" y="44.5" width="505.6" height="368.3" fill="none" stroke="#000" stroke-width="2"/>
<rect x="143.7" y="487.1" width="505.6" height="368.6" fill="none" stroke="#000" stroke-width="2"/>
<line x1="136.5" y1="487.1" x2="143.7" y2="487.1" stroke="#000" stroke-width="2"/>
<line x1="136.5" y1="548.5333333333333" x2="143.7" y2="548.5333333333333" stroke="#000" stroke-width="2"/>
<line x1="136.5" y1="609.9666666666667" x2="143.7" y2="609.9666666666667" stroke="#000" stroke-width="2"/>
<line x1="136.5" y1="671.4000000000001" x2="143.7" y2="671.4000000000001" stroke="#000" stroke-width="2"/>
<line x1="136.5" y1="732.8333333333334" x2="143.7" y2="732.8333333333334" stroke="#000" stroke-width="2"/>
<line x1="136.5" y1="794.2666666666667" x2="143.7" y2="794.2666666666667" stroke="#000" stroke-width="2"/>
<line x1="136.5" y1="855.7" x2="143.7" y2="855.7" stroke="#000" stroke-width="2"/>
<line x1="143.7" y1="855.7" x2="143.7" y2="862.9000000000001" stroke="#000" stroke-width="2"/>
<line x1="312.23333333333335" y1="855.7" x2="312.23333333333335" y2="862.9000000000001" stroke="#000" stroke-width="2"/>
<line x1="480.76666666666665" y1="855.7" x2="480.76666666666665" y2="862.9000000000001" stroke="#000" stroke-width="2"/>
<line x1="649.3000000000001" y1="855.7" x2="649.3000000000001" y2="862.9000000000001" stroke="#000" stroke-width="2"/>
<rect x="684.6" y="487.1" width="505.6" height="368.6" fill="none" stroke="#000" stroke-width="2"/>
<line x1="684.6" y1="855.7" x2="684.6" y2="862.9000000000001" stroke="#000" stroke-width="2"/>
<line x1="853.1333333333333" y1="855.7" x2="853.1333333333333" y2="862.9000000000001" stroke="#000" stroke-width="2"/>
<line x1="1021.6666666666667" y1="855.7" x2="1021.6666666666667" y2="862.9000000000001" stroke="#000" stroke-width="2"/>
<line x1="1190.2" y1="855.7" x2="1190.2" y2="862.9000000000001" stroke="#000" stroke-width="2"/>
<ellipse cx="56.0" cy="273.3" rx="12.75" ry="11.15" fill="none" stroke="#000" stroke-width="3.9"/>
<rect x="52.8" y="267.40000000000003" width="4.1" height="11.8" fill="#000"/>
<ellipse cx="56.0" cy="715.8" rx="12.75" ry="11.15" fill="none" stroke="#000" stroke-width="3.9"/>
<rect x="52.8" y="709.9" width="4.1" height="11.8" fill="#000"/>
<rect x="1229.8" y="61.2" width="18.299999999999955" height="335.0" fill="url(#g)"/>
<polygon points="1238.9499999999998,43.7 1248.1,61.7 1229.8,61.7" fill="#6b011f"/>
<polygon points="1238.9499999999998,413.4 1248.1,395.7 1229.8,395.7" fill="#063264"/>
<polygon points="1238.9499999999998,43.7 1248.1,61.2 1248.1,396.2 1238.9499999999998,413.4 1229.8,396.2 1229.8,61.2" fill="none" stroke="#000" stroke-width="2" stroke-linejoin="miter"/>
<line x1="1248.1" y1="61.2" x2="1255.3" y2="61.2" stroke="#000" stroke-width="2"/>
<line x1="1248.1" y1="228.7" x2="1255.3" y2="228.7" stroke="#000" stroke-width="2"/>
<line x1="1248.1" y1="396.2" x2="1255.3" y2="396.2" stroke="#000" stroke-width="2"/>
<rect x="1229.8" y="503.7" width="18.299999999999955" height="334.90000000000003" fill="url(#g)"/>
<polygon points="1238.9499999999998,486.4 1248.1,504.2 1229.8,504.2" fill="#6b011f"/>
<polygon points="1238.9499999999998,856.7 1248.1,838.1 1229.8,838.1" fill="#063264"/>
<polygon points="1238.9499999999998,486.4 1248.1,503.7 1248.1,838.6 1238.9499999999998,856.7 1229.8,838.6 1229.8,503.7" fill="none" stroke="#000" stroke-width="2" stroke-linejoin="miter"/>
<line x1="1248.1" y1="503.7" x2="1255.3" y2="503.7" stroke="#000" stroke-width="2"/>
<line x1="1248.1" y1="671.15" x2="1255.3" y2="671.15" stroke="#000" stroke-width="2"/>
<line x1="1248.1" y1="838.6" x2="1255.3" y2="838.6" stroke="#000" stroke-width="2"/>
<g style="filter:grayscale(1)">
<text x="169.4" y="85.8" font-size="28.4" font-family="Liberation Serif, serif" text-anchor="start" fill="#000" stroke="#000" stroke-width="0.45" textLength="73.8" lengthAdjust="spacingAndGlyphs" >Water</text>
<text x="251.1" y="85.8" font-size="28.4" font-family="Liberation Serif, serif" text-anchor="start" fill="#000" stroke="#000" stroke-width="0.45" textLength="77.1" lengthAdjust="spacingAndGlyphs" >PaiNN</text>
<text x="709.6" y="85.8" font-size="28.4" font-family="Liberation Serif, serif" text-anchor="start" fill="#000" stroke="#000" stroke-width="0.45" textLength="109.6" lengthAdjust="spacingAndGlyphs" >Methane</text>
<text x="827.4" y="85.8" font-size="28.4" font-family="Liberation Serif, serif" text-anchor="start" fill="#000" stroke="#000" stroke-width="0.45" textLength="76.3" lengthAdjust="spacingAndGlyphs" >PaiNN</text>
<text x="169.0" y="528.7" font-size="28.4" font-family="Liberation Serif, serif" text-anchor="start" fill="#000" stroke="#000" stroke-width="0.45" textLength="74.9" lengthAdjust="spacingAndGlyphs" >Water</text>
<text x="251.5" y="528.7" font-size="28.4" font-family="Liberation Serif, serif" text-anchor="start" fill="#000" stroke="#000" stroke-width="0.45" textLength="90.4" lengthAdjust="spacingAndGlyphs" >SO3Net</text>
<text x="710.0" y="528.7" font-size="28.4" font-family="Liberation Serif, serif" text-anchor="start" fill="#000" stroke="#000" stroke-width="0.45" textLength="109.1" lengthAdjust="spacingAndGlyphs" >Methane</text>
<text x="827.6" y="528.7" font-size="28.4" font-family="Liberation Serif, serif" text-anchor="start" fill="#000" stroke="#000" stroke-width="0.45" textLength="90.6" lengthAdjust="spacingAndGlyphs" >SO3Net</text>
<text x="130.3" y="56.6" font-size="28.6" font-family="Liberation Serif, serif" text-anchor="end" fill="#000" stroke="#000" stroke-width="0.45" textLength="42.6" lengthAdjust="spacingAndGlyphs" >180</text>
<text x="130.3" y="118.0" font-size="28.6" font-family="Liberation Serif, serif" text-anchor="end" fill="#000" stroke="#000" stroke-width="0.45" textLength="42.6" lengthAdjust="spacingAndGlyphs" >160</text>
<text x="130.3" y="179.4" font-size="28.6" font-family="Liberation Serif, serif" text-anchor="end" fill="#000" stroke="#000" stroke-width="0.45" textLength="42.6" lengthAdjust="spacingAndGlyphs" >140</text>
<text x="130.3" y="240.8" font-size="28.6" font-family="Liberation Serif, serif" text-anchor="end" fill="#000" stroke="#000" stroke-width="0.45" textLength="42.6" lengthAdjust="spacingAndGlyphs" >120</text>
<text x="130.3" y="302.1" font-size="28.6" font-family="Liberation Serif, serif" text-anchor="end" fill="#000" stroke="#000" stroke-width="0.45" textLength="42.6" lengthAdjust="spacingAndGlyphs" >100</text>
<text x="130.3" y="363.5" font-size="28.6" font-family="Liberation Serif, serif" text-anchor="end" fill="#000" stroke="#000" stroke-width="0.45" textLength="28.2" lengthAdjust="spacingAndGlyphs" >80</text>
<text x="130.3" y="424.9" font-size="28.6" font-family="Liberation Serif, serif" text-anchor="end" fill="#000" stroke="#000" stroke-width="0.45" textLength="28.2" lengthAdjust="spacingAndGlyphs" >60</text>
<text x="130.3" y="499.2" font-size="28.6" font-family="Liberation Serif, serif" text-anchor="end" fill="#000" stroke="#000" stroke-width="0.45" textLength="42.6" lengthAdjust="spacingAndGlyphs" >180</text>
<text x="130.3" y="560.6" font-size="28.6" font-family="Liberation Serif, serif" text-anchor="end" fill="#000" stroke="#000" stroke-width="0.45" textLength="42.6" lengthAdjust="spacingAndGlyphs" >160</text>
<text x="130.3" y="622.1" font-size="28.6" font-family="Liberation Serif, serif" text-anchor="end" fill="#000" stroke="#000" stroke-width="0.45" textLength="42.6" lengthAdjust="spacingAndGlyphs" >140</text>
<text x="130.3" y="683.5" font-size="28.6" font-family="Liberation Serif, serif" text-anchor="end" fill="#000" stroke="#000" stroke-width="0.45" textLength="42.6" lengthAdjust="spacingAndGlyphs" >120</text>
<text x="130.3" y="744.9" font-size="28.6" font-family="Liberation Serif, serif" text-anchor="end" fill="#000" stroke="#000" stroke-width="0.45" textLength="42.6" lengthAdjust="spacingAndGlyphs" >100</text>
<text x="130.3" y="806.4" font-size="28.6" font-family="Liberation Serif, serif" text-anchor="end" fill="#000" stroke="#000" stroke-width="0.45" textLength="28.2" lengthAdjust="spacingAndGlyphs" >80</text>
<text x="130.3" y="867.8" font-size="28.6" font-family="Liberation Serif, serif" text-anchor="end" fill="#000" stroke="#000" stroke-width="0.45" textLength="28.2" lengthAdjust="spacingAndGlyphs" >60</text>
<text x="143.7" y="892.5" font-size="28.6" font-family="Liberation Serif, serif" text-anchor="middle" fill="#000" stroke="#000" stroke-width="0.45" textLength="14.0" lengthAdjust="spacingAndGlyphs" >0</text>
<text x="312.2" y="892.5" font-size="28.6" font-family="Liberation Serif, serif" text-anchor="middle" fill="#000" stroke="#000" stroke-width="0.45" textLength="14.0" lengthAdjust="spacingAndGlyphs" >5</text>
<text x="480.8" y="892.5" font-size="28.6" font-family="Liberation Serif, serif" text-anchor="middle" fill="#000" stroke="#000" stroke-width="0.45" textLength="27.8" lengthAdjust="spacingAndGlyphs" >10</text>
<text x="649.3" y="892.5" font-size="28.6" font-family="Liberation Serif, serif" text-anchor="middle" fill="#000" stroke="#000" stroke-width="0.45" textLength="27.8" lengthAdjust="spacingAndGlyphs" >15</text>
<text x="684.6" y="892.5" font-size="28.6" font-family="Liberation Serif, serif" text-anchor="middle" fill="#000" stroke="#000" stroke-width="0.45" textLength="14.0" lengthAdjust="spacingAndGlyphs" >0</text>
<text x="853.1" y="892.5" font-size="28.6" font-family="Liberation Serif, serif" text-anchor="middle" fill="#000" stroke="#000" stroke-width="0.45" textLength="14.0" lengthAdjust="spacingAndGlyphs" >5</text>
<text x="1021.7" y="892.5" font-size="28.6" font-family="Liberation Serif, serif" text-anchor="middle" fill="#000" stroke="#000" stroke-width="0.45" textLength="27.8" lengthAdjust="spacingAndGlyphs" >10</text>
<text x="1190.2" y="892.5" font-size="28.6" font-family="Liberation Serif, serif" text-anchor="middle" fill="#000" stroke="#000" stroke-width="0.45" textLength="27.8" lengthAdjust="spacingAndGlyphs" >15</text>
<text x="349.2" y="33.7" font-size="36" font-family="Liberation Serif, serif" text-anchor="start" fill="#000" stroke="#000" stroke-width="0.45" textLength="94.3" lengthAdjust="spacingAndGlyphs" >Water</text>
<text x="868.4" y="33.4" font-size="36" font-family="Liberation Serif, serif" text-anchor="start" fill="#000" stroke="#000" stroke-width="0.45" textLength="137.3" lengthAdjust="spacingAndGlyphs" >Methane</text>
<text x="151.8" y="35.7" font-size="48.5" font-family="Liberation Serif, serif" text-anchor="start" fill="#000" stroke="#000" stroke-width="0.45" textLength="19.5" lengthAdjust="spacingAndGlyphs" >a</text>
<text x="171.0" y="31.900000000000002" font-size="48" font-family="Liberation Serif, serif" text-anchor="start" fill="#000" stroke="#000" stroke-width="0.45" textLength="14.2" lengthAdjust="spacingAndGlyphs" >)</text>
<text x="690.4" y="35.7" font-size="48.5" font-family="Liberation Serif, serif" text-anchor="start" fill="#000" stroke="#000" stroke-width="0.45" textLength="21.5" lengthAdjust="spacingAndGlyphs" >b</text>
<text x="713.4" y="31.900000000000002" font-size="48" font-family="Liberation Serif, serif" text-anchor="start" fill="#000" stroke="#000" stroke-width="0.45" textLength="14.2" lengthAdjust="spacingAndGlyphs" >)</text>
<text x="152.8" y="478.8" font-size="48.5" font-family="Liberation Serif, serif" text-anchor="start" fill="#000" stroke="#000" stroke-width="0.45" textLength="18.5" lengthAdjust="spacingAndGlyphs" >c</text>
<text x="171.0" y="475.0" font-size="48" font-family="Liberation Serif, serif" text-anchor="start" fill="#000" stroke="#000" stroke-width="0.45" textLength="14.2" lengthAdjust="spacingAndGlyphs" >)</text>
<text x="689.7" y="478.8" font-size="48.5" font-family="Liberation Serif, serif" text-anchor="start" fill="#000" stroke="#000" stroke-width="0.45" textLength="22.5" lengthAdjust="spacingAndGlyphs" >d</text>
<text x="712.0" y="475.0" font-size="48" font-family="Liberation Serif, serif" text-anchor="start" fill="#000" stroke="#000" stroke-width="0.45" textLength="14.2" lengthAdjust="spacingAndGlyphs" >)</text>
<text x="364.4" y="936" font-size="35.5" font-family="Liberation Serif, serif" text-anchor="start" fill="#000" stroke="#000" stroke-width="0.45" textLength="63.2" lengthAdjust="spacingAndGlyphs" >L(Å)</text>
<text x="905.3" y="936" font-size="35.5" font-family="Liberation Serif, serif" text-anchor="start" fill="#000" stroke="#000" stroke-width="0.45" textLength="63.2" lengthAdjust="spacingAndGlyphs" >L(Å)</text>
<text x="26.4" y="277.1" font-size="35.8" font-family="Liberation Serif, serif" text-anchor="start" fill="#000" stroke="#000" stroke-width="0.45" textLength="95.3" lengthAdjust="spacingAndGlyphs" transform="rotate(-90 26.4 277.1)" >PaiNN</text>
<text x="26.4" y="728.5" font-size="35.8" font-family="Liberation Serif, serif" text-anchor="start" fill="#000" stroke="#000" stroke-width="0.45" textLength="114.5" lengthAdjust="spacingAndGlyphs" transform="rotate(-90 26.4 728.5)" >SO3Net</text>
<text x="67.9" y="249.4" font-size="40" font-family="Liberation Serif, serif" text-anchor="start" fill="#000" stroke="#000" stroke-width="0.45" textLength="11" lengthAdjust="spacingAndGlyphs" transform="rotate(-90 67.9 249.4)" >(</text>
<text x="70.8" y="237.6" font-size="42.5" font-family="Liberation Serif, serif" text-anchor="start" fill="#000" stroke="#000" stroke-width="0.45" textLength="55.6" lengthAdjust="spacingAndGlyphs" transform="rotate(-90 70.8 237.6)" >deg</text>
<text x="67.9" y="182.5" font-size="40" font-family="Liberation Serif, serif" text-anchor="start" fill="#000" stroke="#000" stroke-width="0.45" textLength="11.3" lengthAdjust="spacingAndGlyphs" transform="rotate(-90 67.9 182.5)" >)</text>
<text x="67.9" y="691.9" font-size="40" font-family="Liberation Serif, serif" text-anchor="start" fill="#000" stroke="#000" stroke-width="0.45" textLength="11" lengthAdjust="spacingAndGlyphs" transform="rotate(-90 67.9 691.9)" >(</text>
<text x="70.8" y="680.1" font-size="42.5" font-family="Liberation Serif, serif" text-anchor="start" fill="#000" stroke="#000" stroke-width="0.45" textLength="55.6" lengthAdjust="spacingAndGlyphs" transform="rotate(-90 70.8 680.1)" >deg</text>
<text x="67.9" y="625.0" font-size="40" font-family="Liberation Serif, serif" text-anchor="start" fill="#000" stroke="#000" stroke-width="0.45" textLength="11.3" lengthAdjust="spacingAndGlyphs" transform="rotate(-90 67.9 625.0)" >)</text>
<text x="1261.8" y="71.3" font-size="23.2" font-family="Liberation Serif, serif" text-anchor="start" fill="#000" stroke="#000" stroke-width="0.45" textLength="42.3" lengthAdjust="spacingAndGlyphs" >0.23</text>
<text x="1261.8" y="238.8" font-size="23.2" font-family="Liberation Serif, serif" text-anchor="start" fill="#000" stroke="#000" stroke-width="0.45" textLength="42.3" lengthAdjust="spacingAndGlyphs" >0.00</text>
<text x="1261.8" y="406.3" font-size="23.2" font-family="Liberation Serif, serif" text-anchor="start" fill="#000" stroke="#000" stroke-width="0.45" textLength="53.2" lengthAdjust="spacingAndGlyphs" >−0.02</text>
<text x="1343.8" y="338.9" font-size="27.5" font-family="Liberation Serif, serif" text-anchor="start" fill="#000" stroke="#000" stroke-width="0.45" textLength="45.4" lengthAdjust="spacingAndGlyphs" transform="rotate(-90 1343.8 338.9)" >Avg.</text>
<text x="1343.8" y="286.1" font-size="27.5" font-family="Liberation Serif, serif" text-anchor="start" fill="#000" stroke="#000" stroke-width="0.45" textLength="25.0" lengthAdjust="spacingAndGlyphs" transform="rotate(-90 1343.8 286.1)" >3B</text>
<text x="1343.8" y="253.7" font-size="27.5" font-family="Liberation Serif, serif" text-anchor="start" fill="#000" stroke="#000" stroke-width="0.45" textLength="39.9" lengthAdjust="spacingAndGlyphs" transform="rotate(-90 1343.8 253.7)" >Rel.</text>
<text x="1343.8" y="206.9" font-size="27.5" font-family="Liberation Serif, serif" text-anchor="start" fill="#000" stroke="#000" stroke-width="0.45" textLength="88.6" lengthAdjust="spacingAndGlyphs" transform="rotate(-90 1343.8 206.9)" >Contrib.</text>
<text x="1261.8" y="513.8" font-size="23.2" font-family="Liberation Serif, serif" text-anchor="start" fill="#000" stroke="#000" stroke-width="0.45" textLength="42.3" lengthAdjust="spacingAndGlyphs" >0.42</text>
<text x="1261.8" y="681.2" font-size="23.2" font-family="Liberation Serif, serif" text-anchor="start" fill="#000" stroke="#000" stroke-width="0.45" textLength="42.3" lengthAdjust="spacingAndGlyphs" >0.00</text>
<text x="1261.8" y="848.7" font-size="23.2" font-family="Liberation Serif, serif" text-anchor="start" fill="#000" stroke="#000" stroke-width="0.45" textLength="53.2" lengthAdjust="spacingAndGlyphs" >−0.05</text>
<text x="1343.8" y="781.3" font-size="27.5" font-family="Liberation Serif, serif" text-anchor="start" fill="#000" stroke="#000" stroke-width="0.45" textLength="45.4" lengthAdjust="spacingAndGlyphs" transform="rotate(-90 1343.8 781.3)" >Avg.</text>
<text x="1343.8" y="728.5" font-size="27.5" font-family="Liberation Serif, serif" text-anchor="start" fill="#000" stroke="#000" stroke-width="0.45" textLength="25.0" lengthAdjust="spacingAndGlyphs" transform="rotate(-90 1343.8 728.5)" >3B</text>
<text x="1343.8" y="696.1" font-size="27.5" font-family="Liberation Serif, serif" text-anchor="start" fill="#000" stroke="#000" stroke-width="0.45" textLength="39.9" lengthAdjust="spacingAndGlyphs" transform="rotate(-90 1343.8 696.1)" >Rel.</text>
<text x="1343.8" y="649.3" font-size="27.5" font-family="Liberation Serif, serif" text-anchor="start" fill="#000" stroke="#000" stroke-width="0.45" textLength="88.6" lengthAdjust="spacingAndGlyphs" transform="rotate(-90 1343.8 649.3)" >Contrib.</text>
</g>
</svg>
</body></html>
